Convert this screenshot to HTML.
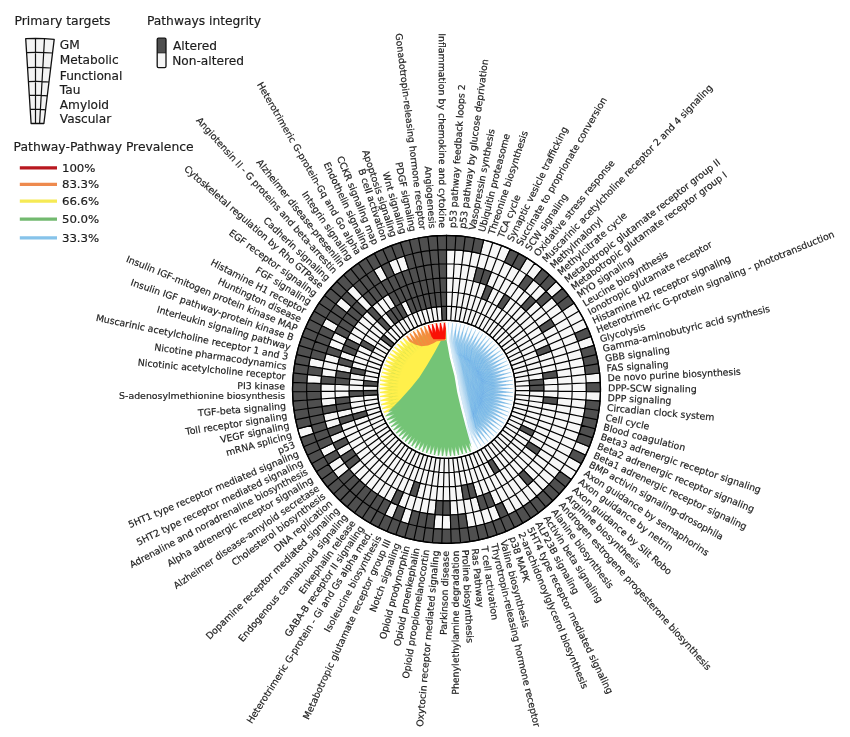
<!DOCTYPE html>
<html><head><meta charset="utf-8"><title>Pathway circos</title>
<style>
html,body{margin:0;padding:0;background:#fff;}
svg{display:block;filter:blur(0.45px);}
text{font-family:"DejaVu Sans","Liberation Sans",sans-serif;fill:#1c1c1c;stroke:#1c1c1c;stroke-width:0.18px;}
.lb{font-size:9.4px;}
.lg{font-size:12.3px;}
</style></head><body>
<svg width="850" height="737" viewBox="0 0 850 737">
<rect width="850" height="737" fill="#fff"/>

<defs><radialGradient id="gap" gradientUnits="userSpaceOnUse" cx="446.5" cy="389.4" r="68"><stop offset="0.80" stop-color="#fff" stop-opacity="0"/><stop offset="0.93" stop-color="#fff" stop-opacity="0.95"/><stop offset="1" stop-color="#fff" stop-opacity="1"/></radialGradient><clipPath id="disc"><circle cx="446.5" cy="389.4" r="67.0"/></clipPath></defs>
<g clip-path="url(#disc)">
<defs><radialGradient id="bl" gradientUnits="userSpaceOnUse" cx="497" cy="392" r="58" fx="500" fy="392"><stop offset="0" stop-color="#8fc3e7"/><stop offset="0.6" stop-color="#93c6e8"/><stop offset="1" stop-color="#9fcdeb"/></radialGradient><linearGradient id="blL" gradientUnits="userSpaceOnUse" x1="449.3" y1="340.3" x2="456.1" y2="338.7"><stop offset="0" stop-color="#fff" stop-opacity="0.6"/><stop offset="1" stop-color="#fff" stop-opacity="0"/></linearGradient></defs>
<path d="M448.02 322.42A67 67 0 0 1 474.82 450.12L475.6 452.5L472.4 441.1L468 424.9L463.7 408.6L459.9 392.3L457.2 376L452.5 357.7L449.3 340.3L448.2 323Z" fill="url(#bl)"/>
<path d="M473.43 450.75A67 67 0 1 1 445.92 322.4L446.6 340.3L449.8 357.7L454.5 376L457.2 392.3L461 408.6L465.3 424.9L469.7 441.1L472.9 452Z" fill="#74c476"/>
<path d="M385.01 416.01A67 67 0 0 1 445.92 322.4L446 340L441.1 340.3L434.6 352.3L427 365.3L419.4 377.3L410.7 388.1L399.9 400.1L389 410.9L385.8 416Z" fill="#fff04b"/>
<path d="M405.25 336.6A67 67 0 0 1 445.92 322.4L445 340.5L436.8 341.2L433.5 343.2L428 345.6L421.6 346.3L415 344.6L408.6 341Z" fill="#f58b3c"/>
<path d="M427.47 325.16A67 67 0 0 1 446.03 322.4L445.6 339.2L433.5 339.2L431.5 336.5Z" fill="#fa1005"/>
<path d="M452.06 329.66Q449.51 375.42 466.05 332.67M451.17 329.58Q450.69 376 476.73 337.57M451.54 329.61Q451.13 376.26 480.05 339.66M452.54 329.71Q451.52 376.46 482.32 341.27M452.21 329.67Q452.21 377.08 488.39 346.44M452.38 329.69Q452.51 377.37 490.71 348.83M452.41 329.69Q452.79 377.69 493.01 351.5M451.2 329.58Q452.94 378.07 495.5 354.78M452.35 329.69Q453.33 378.45 497.54 357.85M452.48 329.7Q453.9 379.55 502.16 366.99M451.37 329.6Q454.13 380.75 505.23 377.12M452.19 329.67Q454.36 381.64 506.3 384.5M451.79 329.63Q454.33 382.09 506.49 388.24M452.58 329.71Q453.38 385.98 497.75 420.59M452.54 329.7Q452.34 387.3 489.16 431.59M451.25 329.59Q451.83 387.63 486.16 434.42M452.48 329.7Q451.36 388.13 481 438.49M451.64 329.62Q450.83 388.4 477.43 440.82M452.17 329.67Q450.25 388.75 472.04 443.69M456.25 330.2Q450.94 375.88 473.72 335.93M456.44 330.23Q451.23 376.03 475.96 337.13M455.78 330.12Q451.48 376.21 478.7 338.77M455.46 330.07Q451.9 376.52 482.5 341.4M454.86 329.98Q452.21 376.82 485.69 343.97M456.37 330.22Q452.72 377.15 488.42 346.48M455.55 330.09Q452.87 377.39 490.54 348.65M455.5 330.08Q454.28 379.64 502.33 367.42M455.29 330.05Q454.42 380.1 503.7 371.27M455.7 330.11Q454.54 380.34 504.28 373.23M455.75 330.12Q454.65 380.77 505.16 376.8M455.83 330.13Q454.82 382.17 506.49 388.43M455.96 330.15Q454.79 383.1 506.11 396.19M454.89 329.99Q454.6 383.51 505.61 399.71M455.54 330.09Q454.48 384.36 503.95 406.69M455.39 330.06Q454.34 384.72 502.95 409.72M455.77 330.12Q454.23 385.13 501.62 413.11M456.07 330.17Q454.1 385.49 500.28 416.01M455.16 330.03Q453.21 386.71 493.74 426.39M455.1 330.02Q452.97 386.99 491.81 428.74M455.32 330.05Q452.4 387.61 486.81 433.84M456.2 330.19Q451.84 388.16 481.33 438.26M455.86 330.14Q451.31 388.47 477.26 440.92M455.16 330.03Q450.98 388.6 475.19 442.1M455.1 330.02Q450.46 388.85 470.88 444.22M458.85 330.68Q451.6 376.13 476.68 337.54M458.61 330.63Q452.57 376.82 484.96 343.34M458.96 330.71Q453.27 377.45 490.42 348.52M459.07 330.73Q453.63 377.86 493.36 351.93M458.4 330.59Q453.82 378.2 495.58 354.89M459.95 330.93Q454.66 379.38 501.03 364.37M459.62 330.85Q454.78 379.76 502.4 367.6M458.87 330.69Q454.94 380.48 504.43 373.76M458.51 330.61Q455 380.94 505.35 377.73M459.72 330.87Q455.21 381.3 505.83 380.44M459.61 330.85Q454.99 384.37 504.15 406.02M459.48 330.82Q454.82 384.85 502.83 410.06M459.93 330.92Q454.7 385.28 501.41 413.59M458.81 330.68Q454.35 385.7 499.64 417.26M459.68 330.86Q454.29 386.01 498.28 419.71M459.27 330.77Q453.96 386.45 495.9 423.46M459.69 330.87Q453.74 386.83 493.62 426.54M459.42 330.81Q452.81 387.77 486.15 434.43M458.84 330.68Q452.49 387.96 484.11 436.15M459.09 330.74Q452.14 388.26 480.91 438.55M458.48 330.61Q451.38 388.67 475.18 442.1M458.51 330.61Q450.84 388.94 470.62 444.34M462.77 331.65Q452.36 376.43 479.1 339.03M462.52 331.58Q452.75 376.71 482.55 341.44M462.27 331.51Q453.34 377.22 487.74 345.82M462.85 331.67Q453.77 377.61 490.76 348.89M462.09 331.46Q453.9 377.84 492.57 350.97M462.93 331.69Q454.34 378.31 495.42 354.67M463.25 331.79Q454.61 378.66 497.31 357.49M462.56 331.59Q454.73 378.99 499.06 360.46M463.08 331.74Q455.17 379.79 502.17 367.01M462.82 331.66Q455.3 380.24 503.55 370.82M462.64 331.61Q455.39 380.61 504.46 373.9M463.41 331.83Q455.71 382 506.36 385.32M462.71 331.63Q455.64 382.28 506.48 387.85M462.91 331.69Q454.92 385.66 500.29 415.98M463.21 331.77Q454.75 386.07 498.54 419.27M462.12 331.47Q454.29 386.55 495.84 423.55M461.99 331.44Q454.02 386.89 493.7 426.44M463.32 331.81Q453.92 387.24 491.54 429.04M463.2 331.77Q452.26 388.63 477.79 440.59M463.17 331.76Q451.4 389.07 470.68 444.31M465.98 332.65Q452.79 376.57 479.45 339.26M465.75 332.57Q453.42 377.05 484.9 343.3M466.05 332.67Q454.4 378.01 492.81 351.25M466.13 332.7Q454.64 378.31 494.74 353.72M467 333.01Q455.03 378.77 497.12 357.19M466.56 332.85Q455.44 379.58 500.91 364.11M466.23 332.74Q455.71 380.36 503.52 370.74M465.61 332.53Q455.86 381.21 505.41 377.99M466.16 332.71Q456.04 382.09 506.35 385.2M465.89 332.62Q456.02 382.42 506.48 387.98M465.83 332.6Q455.97 383.39 506.12 396.11M466.58 332.86Q455.93 384.23 504.97 402.86M465.81 332.59Q455.45 385.38 501.8 412.68M466.07 332.68Q455.29 385.81 500.17 416.23M465.97 332.65Q455.01 386.3 497.92 420.32M467.03 333.02Q454.93 386.67 496.22 422.99M466.78 332.93Q454.32 387.4 491.38 429.22M466.6 332.87Q453.67 388.02 486.16 434.43M466.62 332.88Q453.32 388.31 483.2 436.87M465.83 332.6Q452.99 388.45 481.24 438.32M469.19 333.86Q453.83 377.2 484.91 343.31M469.99 334.19Q454.34 377.62 488.38 346.43M470.24 334.29Q454.89 378.2 492.72 351.14M470.03 334.2Q455.11 378.5 494.74 353.72M470.19 334.27Q455.4 378.9 497.01 357.02M469.8 334.11Q455.62 379.32 499.2 360.72M469.42 333.95Q455.75 379.65 500.68 363.62M469.22 333.87Q455.92 380.07 502.24 367.21M469.74 334.08Q456.23 380.84 504.33 373.4M469.93 334.16Q456.35 381.28 505.19 376.95M470.35 334.34Q456.56 382.66 506.49 388.27M469.94 334.17Q456.41 384.01 505.61 399.67M470.06 334.22Q456.2 384.92 503.77 407.28M469.07 333.81Q455.81 385.61 501.49 413.4M470.01 334.2Q455.71 386.09 499.78 416.99M469.9 334.15Q455.26 386.83 496.07 423.2M470.27 334.31Q455.04 387.2 493.9 426.19M470.34 334.34Q454.84 387.47 492.13 428.36M470.01 334.2Q454.44 387.84 489.13 431.62M469.38 333.93Q453.42 388.61 481.32 438.27M470.01 334.2Q453.03 388.94 477.45 440.8M470.04 334.21Q452.73 389.12 474.84 442.28M469.49 333.98Q452.17 389.33 470.78 444.27M473.01 335.57Q454.29 377.41 484.9 343.3M472.75 335.45Q454.92 378.02 490.4 348.5M473.41 335.77Q455.28 378.38 492.76 351.19M472.66 335.4Q455.68 379 496.84 356.75M473.42 335.78Q456.06 379.53 499.24 360.8M472.53 335.34Q456.12 379.82 500.67 363.59M472.85 335.5Q456.79 381.89 505.86 380.68M473.11 335.62Q456.87 382.34 506.29 384.33M473.43 335.78Q456.93 382.76 506.48 387.7M473.08 335.61Q456.7 384.59 504.91 403.14M473.54 335.84Q456.16 386.25 499.93 416.7M473.41 335.77Q455.42 387.38 493.89 426.2M473.04 335.59Q455.12 387.67 491.78 428.77M473.05 335.59Q454.88 387.93 489.79 430.95M473.22 335.68Q454.53 388.3 486.67 433.97M473.44 335.79Q453.09 389.34 474.45 442.49M472.79 335.47Q452.69 389.46 471.76 443.83M476.29 337.32Q455.11 378 488.46 346.51M476.77 337.6Q455.44 378.32 490.73 348.86M476.76 337.59Q455.71 378.64 493.02 351.51M476.68 337.54Q456.67 380.17 501.03 364.38M476.61 337.5Q456.95 380.9 503.44 370.49M475.57 336.91Q456.93 381.17 504.31 373.34M475.74 337.01Q457.07 381.69 505.32 377.58M476.12 337.22Q457.24 382.62 506.34 385.08M476.18 337.26Q457.26 383.08 506.5 388.92M475.77 337.02Q457.2 383.52 506.4 392.81M476.05 337.18Q457.14 384.34 505.65 399.47M475.51 336.88Q456.9 385.1 504.14 406.08M476.18 337.25Q456.68 385.97 501.69 412.94M475.76 337.02Q456.43 386.38 499.99 416.58M475.55 336.9Q456.22 386.7 498.48 419.36M476.22 337.28Q456.08 387.11 496.61 422.41M476.16 337.24Q455.78 387.52 494.15 425.86M476.09 337.21Q455.2 388.17 489.37 431.38M476.91 337.68Q455 388.51 486.95 433.71M476.2 337.27Q454.59 388.74 484.25 436.04M475.69 336.98Q453.84 389.2 478.45 440.19M476.65 337.53Q453.11 389.73 471.4 443.99M479.01 338.97Q455.94 378.75 492.67 351.08M478.79 338.83Q456.7 379.89 499.21 360.73M478.7 338.77Q457.17 380.98 503.23 369.86M478.7 338.78Q457.3 381.39 504.3 373.3M480.02 339.64Q457.7 382.88 506.32 384.79M479.08 339.02Q457.51 384.58 505.63 399.59M479.07 339.01Q457.29 385.48 503.83 407.1M479.2 339.1Q457.2 385.81 502.94 409.76M479.69 339.42Q456.66 387.11 497.95 420.26M479.24 339.12Q455.6 388.38 489.57 431.18M479.03 338.99Q454.93 388.95 484.24 436.05M479.34 339.18Q453.49 389.9 471.88 443.77M482.31 341.26Q456.67 379.45 495.4 354.63M482 341.03Q457.1 380.18 499.34 360.97M482.89 341.69Q457.84 381.87 504.59 374.4M482.18 341.16Q457.82 382.11 505.18 376.88M482.97 341.75Q458 382.62 505.84 380.54M481.79 340.88Q457.93 383.5 506.5 388.73M481.75 340.84Q457.93 383.83 506.46 391.56M481.99 341.02Q457.75 385.32 504.75 403.77M482.44 341.36Q457.72 385.68 504.04 406.41M481.94 340.98Q456.98 387.2 498.43 419.46M482.79 341.62Q456.86 387.64 496.56 422.48M482.98 341.76Q456.62 388.03 494.36 425.59M482.31 341.26Q455.97 388.64 489.57 431.17M482.5 341.4Q453.81 390.19 471.43 443.97M485.65 343.93Q457.05 379.75 495.24 354.41M485.27 343.61Q457.46 380.43 499.03 360.41M485.03 343.4Q457.8 381.2 502.18 367.05M485.29 343.63Q458 381.69 503.57 370.89M485.41 343.73Q458.13 382.09 504.54 374.19M485.03 343.41Q458.2 382.56 505.48 378.4M485.13 343.49Q458.26 382.82 505.84 380.5M484.79 343.21Q458.28 383.39 506.38 385.55M485.12 343.48Q458.01 386.03 503.78 407.26M485.57 343.87Q457.61 387.2 499.99 416.58M485.78 344.04Q456.96 388.3 494.38 425.57M485.51 343.81Q456.64 388.63 491.96 428.56M485.4 343.72Q456.36 388.9 489.79 430.95M485.14 343.5Q455.64 389.51 484.01 436.23M484.71 343.14Q454.5 390.19 474.93 442.24M484.68 343.11Q454.13 390.37 471.88 443.77M487.53 345.62Q458.37 382.26 504.41 373.71M487.98 346.04Q458.54 382.79 505.34 377.65M488.37 346.42Q458.65 383.22 505.89 380.83M488.41 346.46Q458.71 383.76 506.36 385.34M487.63 345.72Q458.64 384.11 506.5 389M487.5 345.59Q458.61 384.48 506.43 392.2M487.54 345.63Q458.59 384.82 506.23 395.04M488.27 346.33Q458.61 385.43 505.67 399.36M487.56 345.65Q458.06 386.94 501.81 412.66M487.75 345.83Q457.9 387.37 500.26 416.05M487.45 345.55Q457.63 387.77 498.31 419.65M488.31 346.37Q457.49 388.26 496.27 422.91M487.39 345.49Q457.12 388.51 494.13 425.89M487.5 345.59Q455.5 390.07 480.52 438.82M488.34 346.4Q454.89 390.6 474.56 442.44M487.54 345.63Q454.5 390.66 472.08 443.67M490.7 348.83Q458.66 382.35 503.67 371.19M490.53 348.64Q458.91 383.46 505.86 380.64M490.72 348.85Q458.99 384.08 506.38 385.65M490.41 348.51Q458.97 384.35 506.49 388.24M490.86 349Q459.02 384.87 506.44 392.06M490.3 348.39Q458.85 385.69 505.65 399.45M490.91 349.06Q458.83 386.26 504.81 403.54M490.6 348.71Q458.39 387.41 501.45 413.49M490.26 348.35Q458.14 387.79 499.76 417.03M490.7 348.83Q457.78 388.54 496.32 422.84M490.96 349.11Q457.48 389.03 493.58 426.59M490.99 349.14Q457.01 389.58 489.62 431.12M490.88 349.03Q456.67 389.89 486.83 433.82M491.02 349.18Q456.25 390.27 483.22 436.85M490.39 348.49Q455.93 390.37 481.17 438.37M490.23 348.32Q455.42 390.66 477.12 441M490.2 348.29Q455.17 390.8 475.08 442.16M490.54 348.65Q454.72 391.08 470.98 444.18M492.68 351.1Q459.02 383.05 504.69 374.77M492.67 351.08Q459.1 383.38 505.32 377.55M492.97 351.44Q459.2 383.77 505.83 380.44M493.4 351.98Q459.3 384.29 506.28 384.24M493.44 352.02Q459.32 385.28 506.42 392.44M492.44 350.81Q459.1 386.02 505.58 399.85M492.59 350.98Q459.03 386.49 504.81 403.53M493.4 351.98Q458.89 387.39 502.83 410.07M492.5 350.87Q458.63 387.64 501.56 413.24M492.52 350.9Q458.26 388.38 498.45 419.41M492.76 351.19Q457.97 388.92 495.8 423.59M492.59 350.98Q457.68 389.25 493.6 426.57M492.76 351.19Q456.8 390.23 486.04 434.53M493.13 351.64Q456.6 390.48 484.05 436.2M492.75 351.18Q456.13 390.74 480.53 438.82M492.96 351.43Q455.07 391.39 471.44 443.97M495.47 354.73Q459.04 382.51 502 366.61M495.6 354.91Q459.53 384.34 506.01 381.76M494.92 353.96Q459.48 384.54 506.29 384.33M495.61 354.93Q459.59 385.14 506.49 388.33M494.67 353.62Q459.43 385.95 506.09 396.41M495.41 354.64Q459.16 387.63 503.08 409.37M495.09 354.2Q458.96 387.99 501.72 412.87M495.15 354.29Q458.55 388.83 498.26 419.74M495.01 354.09Q458.27 389.21 496.1 423.16M495.61 354.93Q456.91 390.87 484.11 436.15M495.15 354.28Q456.42 391.11 480.55 438.8M495.29 354.48Q456.15 391.33 478.12 440.39M495.13 354.25Q455.31 391.74 471.3 444.03M497.15 357.23Q459.64 384.14 505.36 377.78M497.13 357.21Q459.72 384.62 506.01 381.77M497.51 357.82Q459.82 385.48 506.49 388.29M496.94 356.91Q459.71 386.28 506.15 395.87M497.53 357.83Q459.63 387.29 504.86 403.35M497.02 357.03Q459.46 387.57 504 406.55M497.08 357.13Q459.32 388.03 502.76 410.26M496.95 356.92Q458.77 389.14 498.26 419.74M496.82 356.72Q458.27 389.84 494.24 425.75M496.77 356.65Q457.96 390.21 491.69 428.87M497.41 357.65Q457.37 390.99 486.19 434.4M497.36 357.57Q456.43 391.68 478.35 440.25M497.18 357.28Q455.49 392.13 470.75 444.28M498.81 360.01Q459.75 384.09 504.63 374.54M498.67 359.77Q459.89 384.83 505.9 380.94M499.33 360.95Q460.01 385.37 506.28 384.3M498.97 360.3Q460 385.8 506.49 388.5M499.16 360.65Q460.01 386.31 506.42 392.41M498.73 359.87Q459.92 386.72 506.07 396.59M499.01 360.38Q459.8 387.6 504.84 403.42M498.66 359.75Q459.52 388.31 502.86 409.99M499.38 361.04Q459.42 388.94 501.26 413.91M498.99 360.34Q459.2 389.21 499.86 416.84M498.97 360.3Q458.81 389.87 496.58 422.45M499.41 361.1Q458.27 390.74 491.71 428.85M498.84 360.07Q457.6 391.23 486.64 433.99M498.89 360.15Q456.83 391.85 480.21 439.04M498.82 360.03Q456.19 392.22 474.93 442.24M500.75 363.77Q460.07 384.93 505.36 377.78M500.92 364.13Q460.17 385.46 506.03 381.87M500.41 363.06Q460.16 386.55 506.44 392.03M500.51 363.26Q460.13 387.1 506.09 396.41M500.96 364.21Q460.12 387.67 505.53 400.14M501.02 364.35Q460.06 388.01 504.98 402.84M500.5 363.25Q459.91 388.23 504.22 405.8M500.64 363.55Q459.73 388.84 502.64 410.57M500.66 363.57Q459.42 389.56 500 416.56M500.55 363.34Q459.21 389.9 498.35 419.58M500.45 363.13Q458.71 390.59 494.34 425.61M500.77 363.82Q458.47 391.02 492.01 428.49M500.85 363.98Q457.82 391.72 486.47 434.15M500.91 364.1Q457.52 391.99 483.95 436.28M500.8 363.87Q457.12 392.25 480.7 438.7M500.4 363.05Q456.68 392.41 477.4 440.83M500.78 363.84Q456.04 392.87 471.7 443.85M502.39 367.57Q460.41 386.77 506.5 389.3M502.5 367.85Q460.41 387.14 506.44 392.12M502.33 367.41Q460.36 387.5 506.19 395.52M502.21 367.12Q460.06 388.85 503.83 407.11M502.22 367.14Q459.92 389.27 502.63 410.59M502.19 367.06Q459.77 389.62 501.43 413.54M501.93 366.44Q459.32 390.35 497.93 420.3M502.43 367.69Q458.87 391.25 493.66 426.49M502.49 367.84Q458.6 391.59 491.36 429.24M501.88 366.32Q457.93 392.01 486.38 434.23M502.18 367.04Q457.3 392.63 480.78 438.64M502.31 367.38Q456.94 392.91 477.72 440.64M501.95 366.47Q456.52 393.01 474.55 442.44M502.33 367.42Q456.24 393.29 471.85 443.78M503.29 370.03Q460.49 386.51 506.31 384.68M503.21 369.8Q460.5 387.37 506.44 392.11M503.45 370.52Q460.5 387.83 506.22 395.24M503.47 370.57Q460.42 388.43 505.54 400.12M503.39 370.35Q460.25 389.09 504.2 405.85M503.35 370.22Q460.05 389.66 502.59 410.71M503.68 371.23Q459.96 390.1 501.5 413.38M503.32 370.13Q459.69 390.45 499.56 417.41M503.49 370.62Q459.54 390.81 498.14 419.94M503.3 370.07Q459.22 391.2 495.74 423.69M503.56 370.84Q458.12 392.56 486.29 434.31M503.43 370.44Q457.73 392.82 483.18 436.88M503.59 370.93Q457.53 393.05 481.33 438.25M503.45 370.53Q456.73 393.48 474.82 442.3M504.57 374.32Q460.66 387.91 506.44 392.02M504.51 374.09Q460.56 388.78 505.63 399.56M504.3 373.29Q460.46 389.03 505.06 402.47M504.6 374.44Q460.23 390.08 502.84 410.02M504.29 373.28Q459.39 391.51 496.14 423.1M504.35 373.47Q458.5 392.61 488.68 432.07M504.6 374.4Q458 393.2 484.27 436.02M504.57 374.29Q457.58 393.5 480.73 438.68M504.34 373.43Q457.18 393.64 477.63 440.69M504.28 373.22Q456.49 393.98 471.98 443.72M505.31 377.51Q460.7 388.84 506.06 396.62M505.39 377.91Q460.6 389.56 505.12 402.19M505.39 377.91Q460.49 390.01 504.15 406.01M505.33 377.61Q460.33 390.43 502.95 409.75M505.42 378.08Q459.99 391.3 500 416.55M505.38 377.86Q459.55 392.02 496.36 422.78M505.31 377.5Q459.23 392.41 493.75 426.38M505.23 377.14Q458.99 392.65 491.83 428.71M505.26 377.28Q458.67 393.01 489.16 431.59M505.36 377.74Q458.41 393.33 486.86 433.79M505.16 376.81Q458.04 393.51 484.02 436.22M505.35 377.7Q457.73 393.87 481.19 438.35M505.92 381.07Q460.74 389.56 505.71 399.1M506 381.68Q460.65 390.11 504.94 403.01M506.03 381.9Q460.54 390.57 503.96 406.67M505.85 380.57Q460.18 391.31 501.14 414.18M505.9 380.97Q459.99 391.76 499.53 417.46M505.94 381.19Q459.83 392.07 498.17 419.9M506.03 381.9Q459.62 392.52 496.28 422.9M505.93 381.15Q459.4 392.72 494.56 425.32M505.98 381.48Q458.14 394.06 484.06 436.19M505.89 380.86Q457.78 394.25 481.14 438.39M505.96 381.4Q457.46 394.54 478.4 440.22M506.04 381.96Q456.68 395.03 471.82 443.8M506.36 385.24Q460.78 390.11 505.65 399.47M506.34 385.05Q460.6 390.85 504.19 405.87M506.38 385.6Q460.32 391.73 501.81 412.65M506.35 385.12Q460.05 392.24 499.59 417.35M506.35 385.18Q459.87 392.57 498.1 420.01M506.32 384.77Q459.63 392.9 496.1 423.16M506.3 384.5Q459.35 393.24 493.81 426.3M506.32 384.78Q459.14 393.54 492 428.51M506.34 385.08Q458.78 393.97 488.96 431.79M506.29 384.33Q458.18 394.41 484.02 436.22M506.29 384.39Q457.79 394.71 480.76 438.66M506.28 384.3Q457.12 395.11 475.23 442.08M506.33 384.83Q456.71 395.38 471.72 443.84M506.49 388.37Q460.49 391.66 503.11 409.29M506.5 388.86Q459.92 392.96 498.35 419.6M506.48 388.03Q459.7 393.22 496.48 422.6M506.5 388.93Q458.52 394.7 486.63 434.01M506.49 388.49Q458.19 394.92 483.9 436.32M506.49 388.31Q457.8 395.19 480.67 438.72M506.5 389.14Q456.63 395.95 470.89 444.22M506.41 392.61Q460.26 392.74 501.21 414.03M506.43 392.3Q460.06 393.11 499.57 417.39M506.41 392.74Q459.85 393.53 497.8 420.51M506.46 391.55Q459.69 393.64 496.46 422.62M506.45 391.84Q459.13 394.41 491.8 428.75M506.47 391.34Q458.44 395.05 486.04 434.53M506.45 391.95Q458.1 395.4 483.18 436.88M506.46 391.45Q457.76 395.59 480.34 438.95M506.46 391.68Q457.38 395.86 477.18 440.96M506.4 392.82Q457.09 396.15 474.88 442.26M506.46 391.67Q456.67 396.23 471.28 444.04M506.16 395.81Q460.27 393.01 501.62 413.1M506.2 395.38Q459.13 394.8 492.06 428.44M506.07 396.57Q458.72 395.37 488.77 431.98M506.17 395.67Q457.86 396 481.48 438.15M506.2 395.44Q456.96 396.53 473.97 442.74M506.08 396.5Q456.67 396.79 471.64 443.88M505.54 400.08Q460 393.94 500 416.57M505.61 399.67Q459.78 394.31 498.07 420.06M505.76 398.8Q459.57 394.57 496.13 423.12M505.55 400.03Q459.31 395.04 494.21 425.78M505.71 399.13Q459.08 395.24 492.16 428.33M505.65 399.49Q458.74 395.65 489.36 431.39M505.72 399.07Q458.42 395.91 486.62 434.01M505.58 399.86Q457.72 396.55 480.9 438.56M505.75 398.87Q457.31 396.71 477.31 440.88M505.69 399.22Q456.98 396.94 474.61 442.41M504.99 402.78Q459.94 394.26 500.02 416.52M504.92 403.08Q459.71 394.7 498.17 419.9M504.96 402.93Q459.48 395.05 496.22 422.98M504.75 403.79Q458.97 395.8 492.16 428.33M504.82 403.49Q458.35 396.41 486.9 433.76M504.92 403.07Q457.93 396.72 483.36 436.74M504.98 402.81Q456.57 397.53 471.95 443.74M503.88 406.93Q459.32 395.59 495.92 423.43M504.2 405.87Q458.18 396.78 486.11 434.46M504.19 405.88Q457.85 397.06 483.37 436.73M503.92 406.8Q457.59 397.34 481.52 438.12M503.89 406.89Q457.22 397.59 478.47 440.17M503.79 407.24Q456.8 397.87 475.05 442.17M503.02 409.53Q458.09 397.18 486.56 434.07M502.8 410.15Q457.44 397.75 481.38 438.22M502.83 410.05Q456.61 398.25 474.38 442.53M502.71 410.38Q456.17 398.5 470.89 444.22M501.66 413Q458.59 396.91 492.1 428.39M501.56 413.24Q457.92 397.62 486.58 434.05M501.59 413.16Q457.19 398.18 480.51 438.83M501.77 412.76Q456.43 398.6 474 442.73M499.56 417.4Q458.01 397.8 489.33 431.42M500.22 416.12Q457.78 397.94 486.79 433.86M499.57 417.39Q456.97 398.68 480.67 438.72M499.8 416.96Q456.64 398.86 477.67 440.67M499.9 416.76Q455.89 399.24 471.36 444.01M497.91 420.34Q457.51 398.44 486.85 433.8M498.17 419.91Q456.83 398.96 480.95 438.52M498.36 419.58Q456.16 399.35 475.17 442.1M496.5 422.57Q457.02 398.98 484.2 436.08M496.14 423.11Q456.25 399.56 478.11 440.4M494.12 425.91Q456.34 399.68 480.89 438.57M493.76 426.37Q455.96 399.96 478.07 440.42M493.93 426.15Q455.55 400.18 474.51 442.46M493.69 426.46Q455.14 400.4 471.32 444.03M492.21 428.26Q456.1 399.97 480.8 438.63M491.7 428.86Q455.71 400.26 478.03 440.45M492.24 428.23Q455.43 400.39 475.14 442.12M491.35 429.26Q454.85 400.74 471.23 444.07M489 431.75Q455.33 400.64 477.62 440.7M488.95 431.8Q455.02 400.82 475.03 442.18M486.87 433.79Q454.76 401.06 475 442.2" fill="none" stroke="#5aa8dc" stroke-opacity="0.022" stroke-width="0.6"/>
<defs><radialGradient id="gap2" gradientUnits="userSpaceOnUse" cx="446.5" cy="389.4" r="68"><stop offset="0.66" stop-color="#fff" stop-opacity="0"/><stop offset="0.84" stop-color="#fff" stop-opacity="0.95"/><stop offset="1" stop-color="#fff" stop-opacity="1"/></radialGradient></defs>
<path d="M444.75 320.42L448.25 320.42L446.5 331.9ZM474.75 452.35L471.53 453.7L468.71 442.44ZM470.86 453.96L467.56 455.11L465.43 443.69ZM466.88 455.32L463.52 456.27L462.09 444.75ZM462.82 456.44L459.41 457.18L458.68 445.59ZM458.7 457.31L455.25 457.84L455.24 446.23ZM454.54 457.93L451.06 458.25L451.75 446.66ZM450.35 458.29L446.86 458.4L448.25 446.87ZM446.14 458.4L442.65 458.29L444.75 446.87ZM441.94 458.25L438.46 457.93L441.25 446.66ZM437.75 457.84L434.3 457.31L437.76 446.23ZM433.59 457.18L430.18 456.44L434.32 445.59ZM429.48 456.27L426.12 455.32L430.91 444.75ZM425.44 455.11L422.14 453.96L427.57 443.69ZM421.47 453.7L418.25 452.35L424.29 442.44ZM417.6 452.06L414.46 450.51L421.1 440.99ZM413.83 450.18L410.8 448.45L418 439.34ZM410.19 448.07L407.27 446.16L415.01 437.51ZM406.68 445.75L403.88 443.66L412.14 435.5ZM403.32 443.22L400.65 440.96L409.39 433.32ZM400.12 440.48L397.59 438.07L406.78 430.98ZM397.09 437.56L394.71 435L404.32 428.48ZM394.24 434.46L392.03 431.76L402.02 425.84ZM391.59 431.19L389.55 428.36L399.88 423.06ZM389.15 427.76L387.28 424.81L397.91 420.15ZM386.92 424.2L385.23 421.14L396.13 417.13ZM384.91 420.5L383.41 417.34L394.53 414.01ZM383.12 416.69L381.83 413.45L393.13 410.8ZM381.58 412.77L380.48 409.46L391.92 407.5ZM380.27 408.77L379.38 405.4L390.92 404.14ZM379.22 404.7L378.53 401.27L390.13 400.73ZM378.41 400.57L377.93 397.11L389.54 397.27ZM377.86 396.4L377.59 392.91L389.17 393.78ZM377.56 392.2L377.5 388.71L389.01 390.28ZM377.51 387.99L377.67 384.5L389.06 386.77ZM377.73 383.79L378.1 380.31L389.33 383.27ZM378.2 379.6L378.78 376.16L389.81 379.8ZM378.92 375.46L379.71 372.06L390.5 376.36ZM379.9 371.36L380.9 368.02L391.4 372.97ZM381.12 367.34L382.32 364.06L392.5 369.64ZM382.59 363.39L383.99 360.19L393.81 366.39ZM384.29 359.55L385.88 356.44L395.31 363.22ZM386.23 355.81L388.01 352.8L397 360.15ZM388.39 352.2L390.35 349.3L398.87 357.18ZM390.76 348.72L392.89 345.96L400.93 354.34ZM393.35 345.4L395.64 342.77L403.15 351.63ZM396.13 342.24L398.58 339.75L405.53 349.05ZM399.1 339.26L401.7 336.93L408.07 346.63ZM402.24 336.46L404.98 334.29L410.75 344.37ZM405.55 333.86L408.41 331.86L413.56 342.27ZM409.01 331.47L411.99 329.65L416.49 340.35ZM412.62 329.29L415.7 327.66L419.54 338.61ZM416.34 327.34L419.52 325.89L422.69 337.06ZM420.18 325.62L423.44 324.37L425.92 335.71ZM424.12 324.13L427.45 323.08L429.23 334.55ZM428.14 322.89L431.53 322.04L432.61 333.6ZM432.23 321.89L435.66 321.26L436.04 332.86ZM436.37 321.15L439.84 320.72L439.5 332.33ZM440.55 320.66L444.04 320.44L442.99 332.01Z" fill="url(#gap)"/>
<path d="M448.76 320.44L452.65 320.67L449.3 343.49ZM452.96 320.7L456.83 321.18L452.1 343.74ZM457.13 321.22L460.97 321.93L454.87 344.17ZM461.27 322L465.06 322.94L457.61 344.76ZM465.35 323.03L469.07 324.2L460.31 345.52ZM469.36 324.3L473.01 325.69L462.96 346.45ZM473.29 325.81L476.84 327.43L465.55 347.53ZM477.12 327.56L480.56 329.39L468.07 348.77ZM480.83 329.55L484.16 331.58L470.51 350.16ZM484.41 331.75L487.61 333.99L472.85 351.7ZM487.86 334.17L490.91 336.59L475.1 353.37ZM491.15 336.79L494.05 339.4L477.25 355.18ZM494.27 339.61L497.01 342.39L479.27 357.12ZM497.22 342.62L499.78 345.56L481.18 359.18ZM499.98 345.8L502.36 348.89L482.96 361.35ZM502.54 349.14L504.72 352.37L484.6 363.63ZM504.89 352.63L506.87 355.99L486.1 366ZM507.02 356.26L508.8 359.73L487.45 368.45ZM508.93 360.01L510.49 363.58L488.66 370.99ZM510.6 363.87L511.94 367.53L489.7 373.59ZM512.04 367.82L513.15 371.56L490.58 376.26ZM513.23 371.86L514.12 375.66L491.3 378.97ZM514.18 375.96L514.83 379.81L491.85 381.72ZM514.87 380.11L515.29 383.99L492.24 384.5ZM515.31 384.3L515.49 388.19L492.45 387.3ZM515.49 388.5L515.43 392.4L492.49 390.1ZM515.42 392.71L515.12 396.6L492.37 392.9ZM515.09 396.9L514.56 400.77L492.07 395.69ZM514.51 401.07L513.74 404.9L491.6 398.46ZM513.67 405.2L512.67 408.97L490.96 401.19ZM512.58 409.26L511.35 412.96L490.16 403.88ZM511.25 413.25L509.79 416.87L489.2 406.52ZM509.67 417.16L508 420.68L488.07 409.09ZM507.86 420.96L505.98 424.37L486.8 411.59ZM505.82 424.64L503.74 427.93L485.37 414ZM503.57 428.19L501.28 431.35L483.8 416.32ZM501.09 431.6L498.62 434.61L482.09 418.55ZM498.42 434.85L495.77 437.71L480.24 420.66ZM495.55 437.93L492.73 440.62L478.27 422.66ZM492.5 440.83L489.52 443.34L476.19 424.54ZM489.28 443.54L486.15 445.87L473.99 426.28ZM485.9 446.04L482.64 448.18L471.69 427.89ZM482.38 448.34L478.99 450.27L469.3 429.35ZM478.72 450.42L475.22 452.14L466.82 430.67Z" fill="url(#gap2)"/>
<path d="M475.6 452.5L472.4 441.1L468 424.9L463.7 408.6L459.9 392.3L457.2 376L452.5 357.7L449.3 340.3L448.2 323L455.2 323L456.3 340.3L459.5 357.7L464.2 376L466.9 392.3L470.7 408.6L475 424.9L479.4 441.1L482.6 452.5Z" fill="url(#blL)"/>
<defs><radialGradient id="ys" gradientUnits="userSpaceOnUse" cx="446.5" cy="389.4" r="68"><stop offset="0.70" stop-color="#a8cf4a" stop-opacity="0"/><stop offset="0.84" stop-color="#a8cf4a" stop-opacity="0.55"/><stop offset="0.93" stop-color="#c8e07a" stop-opacity="0"/></radialGradient></defs>
<path d="M384.52 412.08L402.25 408L401.99 407.38ZM384.52 412.08L400.7 403.75L400.5 403.11ZM383.25 408.26L401.2 405.27L400.98 404.63ZM383.25 408.26L399.91 400.93L399.75 400.28ZM382.22 404.37L400.32 402.47L400.14 401.83ZM382.22 404.37L399.29 398.07L399.17 397.41ZM381.43 400.42L399.6 399.63L399.47 398.98ZM381.43 400.42L398.85 395.18L398.77 394.51ZM380.88 396.43L399.07 396.76L398.97 396.09ZM380.88 396.43L398.59 392.26L398.55 391.59ZM380.57 392.42L398.71 393.85L398.65 393.18ZM380.57 392.42L398.5 389.33L398.51 388.66ZM380.51 388.39L398.52 390.93L398.51 390.26ZM380.51 388.39L398.59 386.41L398.64 385.74ZM380.69 384.37L398.52 388L398.54 387.33ZM380.69 384.37L398.86 383.49L398.95 382.83ZM381.12 380.37L398.69 385.08L398.76 384.41ZM381.12 380.37L399.31 380.6L399.44 379.94ZM381.79 376.4L399.05 382.17L399.15 381.51ZM381.79 376.4L399.94 377.74L400.11 377.09ZM382.71 372.48L399.58 379.29L399.72 378.64ZM382.71 372.48L400.74 374.92L400.94 374.29ZM383.86 368.62L400.28 376.45L400.46 375.81ZM383.86 368.62L401.7 372.16L401.95 371.54ZM385.24 364.84L401.15 373.66L401.38 373.03ZM385.24 364.84L402.84 369.46L403.12 368.85ZM386.85 361.15L402.2 370.92L402.46 370.31ZM386.85 361.15L404.13 366.84L404.45 366.25ZM388.68 357.57L403.41 368.26L403.71 367.66ZM388.68 357.57L405.59 364.3L405.94 363.73ZM390.73 354.1L404.78 365.67L405.11 365.09ZM390.73 354.1L407.2 361.85L407.58 361.3ZM392.99 350.77L406.3 363.17L406.67 362.61ZM392.99 350.77L408.95 359.5L409.37 358.98ZM395.44 347.58L407.97 360.77L408.38 360.23ZM395.44 347.58L410.84 357.27L411.29 356.77ZM398.09 344.54L409.79 358.47L410.23 357.96ZM398.09 344.54L412.87 355.15L413.35 354.69ZM400.91 341.68L411.75 356.29L412.21 355.81ZM400.91 341.68L415.02 353.17L415.52 352.73ZM403.9 338.99L413.83 354.23L414.32 353.78ZM403.9 338.99L417.28 351.32L417.82 350.91ZM407.06 336.48L416.03 352.31L416.55 351.89ZM407.06 336.48L419.66 349.61L420.22 349.23ZM410.36 334.18L418.35 350.52L418.9 350.13ZM410.36 334.18L422.14 348.04L422.72 347.71ZM413.79 332.08L420.77 348.88L421.34 348.52ZM413.79 332.08L424.7 346.64L425.3 346.33ZM417.35 330.19L423.29 347.38L423.88 347.06ZM417.35 330.19L427.35 345.39L427.97 345.12ZM421.01 328.52L425.9 346.05L426.5 345.76ZM421.01 328.52L430.07 344.3L430.7 344.08Z" fill="url(#ys)"/>
</g>
<path d="M446.5 249.57A139.83 139.83 0 0 1 455.02 249.83L454.16 263.97A125.67 125.67 0 0 0 446.5 263.73ZM446.5 263.73A125.67 125.67 0 0 1 454.16 263.97L453.3 278.11A111.5 111.5 0 0 0 446.5 277.9ZM446.5 277.9A111.5 111.5 0 0 1 453.3 278.11L452.43 292.25A97.33 97.33 0 0 0 446.5 292.07ZM446.5 292.07A97.33 97.33 0 0 1 452.43 292.25L451.57 306.39A83.17 83.17 0 0 0 446.5 306.23ZM446.5 306.23A83.17 83.17 0 0 1 451.57 306.39L450.71 320.53A69 69 0 0 0 446.5 320.4ZM455.02 249.83A139.83 139.83 0 0 1 463.52 250.61L461.79 264.67A125.67 125.67 0 0 0 454.16 263.97ZM454.16 263.97A125.67 125.67 0 0 1 461.79 264.67L460.07 278.73A111.5 111.5 0 0 0 453.3 278.11ZM453.3 278.11A111.5 111.5 0 0 1 460.07 278.73L458.35 292.79A97.33 97.33 0 0 0 452.43 292.25ZM452.43 292.25A97.33 97.33 0 0 1 458.35 292.79L456.62 306.85A83.17 83.17 0 0 0 451.57 306.39ZM451.57 306.39A83.17 83.17 0 0 1 456.62 306.85L454.9 320.91A69 69 0 0 0 450.71 320.53ZM463.52 250.61A139.83 139.83 0 0 1 471.95 251.9L469.37 265.83A125.67 125.67 0 0 0 461.79 264.67ZM461.79 264.67A125.67 125.67 0 0 1 469.37 265.83L466.79 279.76A111.5 111.5 0 0 0 460.07 278.73ZM460.07 278.73A111.5 111.5 0 0 1 466.79 279.76L464.21 293.69A97.33 97.33 0 0 0 458.35 292.79ZM458.35 292.79A97.33 97.33 0 0 1 464.21 293.69L461.64 307.62A83.17 83.17 0 0 0 456.62 306.85ZM456.62 306.85A83.17 83.17 0 0 1 461.64 307.62L459.06 321.55A69 69 0 0 0 454.9 320.91ZM471.95 251.9A139.83 139.83 0 0 1 480.28 253.71L476.86 267.46A125.67 125.67 0 0 0 469.37 265.83ZM469.37 265.83A125.67 125.67 0 0 1 476.86 267.46L473.44 281.2A111.5 111.5 0 0 0 466.79 279.76ZM466.79 279.76A111.5 111.5 0 0 1 473.44 281.2L470.02 294.95A97.33 97.33 0 0 0 464.21 293.69ZM464.21 293.69A97.33 97.33 0 0 1 470.02 294.95L466.59 308.7A83.17 83.17 0 0 0 461.64 307.62ZM461.64 307.62A83.17 83.17 0 0 1 466.59 308.7L463.17 322.44A69 69 0 0 0 459.06 321.55ZM483.71 239.96A154 154 0 0 1 492.75 242.51L488.49 256.02A139.83 139.83 0 0 0 480.28 253.71ZM480.28 253.71A139.83 139.83 0 0 1 488.49 256.02L484.24 269.53A125.67 125.67 0 0 0 476.86 267.46ZM473.44 281.2A111.5 111.5 0 0 1 479.98 283.05L475.73 296.56A97.33 97.33 0 0 0 470.02 294.95ZM470.02 294.95A97.33 97.33 0 0 1 475.73 296.56L471.48 310.07A83.17 83.17 0 0 0 466.59 308.7ZM466.59 308.7A83.17 83.17 0 0 1 471.48 310.07L467.22 323.58A69 69 0 0 0 463.17 322.44ZM492.75 242.51A154 154 0 0 1 501.62 245.6L496.55 258.83A139.83 139.83 0 0 0 488.49 256.02ZM488.49 256.02A139.83 139.83 0 0 1 496.55 258.83L491.48 272.06A125.67 125.67 0 0 0 484.24 269.53ZM479.98 283.05A111.5 111.5 0 0 1 486.41 285.29L481.33 298.51A97.33 97.33 0 0 0 475.73 296.56ZM475.73 296.56A97.33 97.33 0 0 1 481.33 298.51L476.26 311.74A83.17 83.17 0 0 0 471.48 310.07ZM471.48 310.07A83.17 83.17 0 0 1 476.26 311.74L471.19 324.97A69 69 0 0 0 467.22 323.58ZM501.62 245.6A154 154 0 0 1 510.28 249.23L504.41 262.12A139.83 139.83 0 0 0 496.55 258.83ZM496.55 258.83A139.83 139.83 0 0 1 504.41 262.12L498.55 275.02A125.67 125.67 0 0 0 491.48 272.06ZM491.48 272.06A125.67 125.67 0 0 1 498.55 275.02L492.68 287.91A111.5 111.5 0 0 0 486.41 285.29ZM481.33 298.51A97.33 97.33 0 0 1 486.81 300.81L480.94 313.7A83.17 83.17 0 0 0 476.26 311.74ZM476.26 311.74A83.17 83.17 0 0 1 480.94 313.7L475.08 326.6A69 69 0 0 0 471.19 324.97ZM504.41 262.12A139.83 139.83 0 0 1 512.06 265.89L505.42 278.4A125.67 125.67 0 0 0 498.55 275.02ZM498.55 275.02A125.67 125.67 0 0 1 505.42 278.4L498.78 290.92A111.5 111.5 0 0 0 492.68 287.91ZM492.68 287.91A111.5 111.5 0 0 1 498.78 290.92L492.14 303.43A97.33 97.33 0 0 0 486.81 300.81ZM486.81 300.81A97.33 97.33 0 0 1 492.14 303.43L485.49 315.94A83.17 83.17 0 0 0 480.94 313.7ZM480.94 313.7A83.17 83.17 0 0 1 485.49 315.94L478.85 328.45A69 69 0 0 0 475.08 326.6ZM512.06 265.89A139.83 139.83 0 0 1 519.47 270.12L512.08 282.2A125.67 125.67 0 0 0 505.42 278.4ZM505.42 278.4A125.67 125.67 0 0 1 512.08 282.2L504.69 294.29A111.5 111.5 0 0 0 498.78 290.92ZM498.78 290.92A111.5 111.5 0 0 1 504.69 294.29L497.29 306.37A97.33 97.33 0 0 0 492.14 303.43ZM492.14 303.43A97.33 97.33 0 0 1 497.29 306.37L489.9 318.46A83.17 83.17 0 0 0 485.49 315.94ZM485.49 315.94A83.17 83.17 0 0 1 489.9 318.46L482.51 330.54A69 69 0 0 0 478.85 328.45ZM526.86 258.03A154 154 0 0 1 534.72 263.18L526.61 274.79A139.83 139.83 0 0 0 519.47 270.12ZM519.47 270.12A139.83 139.83 0 0 1 526.61 274.79L518.49 286.4A125.67 125.67 0 0 0 512.08 282.2ZM512.08 282.2A125.67 125.67 0 0 1 518.49 286.4L510.38 298.01A111.5 111.5 0 0 0 504.69 294.29ZM497.29 306.37A97.33 97.33 0 0 1 502.26 309.62L494.14 321.23A83.17 83.17 0 0 0 489.9 318.46ZM489.9 318.46A83.17 83.17 0 0 1 494.14 321.23L486.03 332.84A69 69 0 0 0 482.51 330.54ZM534.72 263.18A154 154 0 0 1 542.25 268.79L533.45 279.88A139.83 139.83 0 0 0 526.61 274.79ZM518.49 286.4A125.67 125.67 0 0 1 524.64 290.98L515.83 302.07A111.5 111.5 0 0 0 510.38 298.01ZM510.38 298.01A111.5 111.5 0 0 1 515.83 302.07L507.02 313.17A97.33 97.33 0 0 0 502.26 309.62ZM502.26 309.62A97.33 97.33 0 0 1 507.02 313.17L498.21 324.26A83.17 83.17 0 0 0 494.14 321.23ZM494.14 321.23A83.17 83.17 0 0 1 498.21 324.26L489.4 335.36A69 69 0 0 0 486.03 332.84ZM533.45 279.88A139.83 139.83 0 0 1 539.96 285.39L530.49 295.93A125.67 125.67 0 0 0 524.64 290.98ZM524.64 290.98A125.67 125.67 0 0 1 530.49 295.93L521.02 306.46A111.5 111.5 0 0 0 515.83 302.07ZM515.83 302.07A111.5 111.5 0 0 1 521.02 306.46L511.56 317A97.33 97.33 0 0 0 507.02 313.17ZM507.02 313.17A97.33 97.33 0 0 1 511.56 317L502.09 327.54A83.17 83.17 0 0 0 498.21 324.26ZM498.21 324.26A83.17 83.17 0 0 1 502.09 327.54L492.62 338.08A69 69 0 0 0 489.4 335.36ZM539.96 285.39A139.83 139.83 0 0 1 546.13 291.28L536.03 301.22A125.67 125.67 0 0 0 530.49 295.93ZM521.02 306.46A111.5 111.5 0 0 1 525.94 311.16L515.85 321.1A97.33 97.33 0 0 0 511.56 317ZM511.56 317A97.33 97.33 0 0 1 515.85 321.1L505.75 331.04A83.17 83.17 0 0 0 502.09 327.54ZM502.09 327.54A83.17 83.17 0 0 1 505.75 331.04L495.66 340.98A69 69 0 0 0 492.62 338.08ZM556.22 281.34A154 154 0 0 1 562.61 288.23L551.92 297.54A139.83 139.83 0 0 0 546.13 291.28ZM536.03 301.22A125.67 125.67 0 0 1 541.24 306.84L530.56 316.15A111.5 111.5 0 0 0 525.94 311.16ZM525.94 311.16A111.5 111.5 0 0 1 530.56 316.15L519.88 325.46A97.33 97.33 0 0 0 515.85 321.1ZM515.85 321.1A97.33 97.33 0 0 1 519.88 325.46L509.2 334.76A83.17 83.17 0 0 0 505.75 331.04ZM505.75 331.04A83.17 83.17 0 0 1 509.2 334.76L498.52 344.07A69 69 0 0 0 495.66 340.98ZM551.92 297.54A139.83 139.83 0 0 1 557.33 304.13L546.1 312.77A125.67 125.67 0 0 0 541.24 306.84ZM541.24 306.84A125.67 125.67 0 0 1 546.1 312.77L534.87 321.41A111.5 111.5 0 0 0 530.56 316.15ZM530.56 316.15A111.5 111.5 0 0 1 534.87 321.41L523.64 330.05A97.33 97.33 0 0 0 519.88 325.46ZM519.88 325.46A97.33 97.33 0 0 1 523.64 330.05L512.42 338.69A83.17 83.17 0 0 0 509.2 334.76ZM509.2 334.76A83.17 83.17 0 0 1 512.42 338.69L501.19 347.33A69 69 0 0 0 498.52 344.07ZM557.33 304.13A139.83 139.83 0 0 1 562.32 311.05L550.59 318.99A125.67 125.67 0 0 0 546.1 312.77ZM546.1 312.77A125.67 125.67 0 0 1 550.59 318.99L538.85 326.92A111.5 111.5 0 0 0 534.87 321.41ZM534.87 321.41A111.5 111.5 0 0 1 538.85 326.92L527.12 334.86A97.33 97.33 0 0 0 523.64 330.05ZM523.64 330.05A97.33 97.33 0 0 1 527.12 334.86L515.39 342.8A83.17 83.17 0 0 0 512.42 338.69ZM512.42 338.69A83.17 83.17 0 0 1 515.39 342.8L503.65 350.74A69 69 0 0 0 501.19 347.33ZM574.05 303.11A154 154 0 0 1 579.08 311.05L566.88 318.26A139.83 139.83 0 0 0 562.32 311.05ZM562.32 311.05A139.83 139.83 0 0 1 566.88 318.26L554.69 325.46A125.67 125.67 0 0 0 550.59 318.99ZM538.85 326.92A111.5 111.5 0 0 1 542.49 332.67L530.29 339.88A97.33 97.33 0 0 0 527.12 334.86ZM527.12 334.86A97.33 97.33 0 0 1 530.29 339.88L518.1 347.09A83.17 83.17 0 0 0 515.39 342.8ZM515.39 342.8A83.17 83.17 0 0 1 518.1 347.09L505.9 354.29A69 69 0 0 0 503.65 350.74ZM579.08 311.05A154 154 0 0 1 583.61 319.28L571 325.73A139.83 139.83 0 0 0 566.88 318.26ZM566.88 318.26A139.83 139.83 0 0 1 571 325.73L558.38 332.18A125.67 125.67 0 0 0 554.69 325.46ZM554.69 325.46A125.67 125.67 0 0 1 558.38 332.18L545.77 338.63A111.5 111.5 0 0 0 542.49 332.67ZM542.49 332.67A111.5 111.5 0 0 1 545.77 338.63L533.16 345.08A97.33 97.33 0 0 0 530.29 339.88ZM530.29 339.88A97.33 97.33 0 0 1 533.16 345.08L520.54 351.53A83.17 83.17 0 0 0 518.1 347.09ZM518.1 347.09A83.17 83.17 0 0 1 520.54 351.53L507.93 357.98A69 69 0 0 0 505.9 354.29ZM583.61 319.28A154 154 0 0 1 587.63 327.77L574.65 333.44A139.83 139.83 0 0 0 571 325.73ZM571 325.73A139.83 139.83 0 0 1 574.65 333.44L561.66 339.11A125.67 125.67 0 0 0 558.38 332.18ZM558.38 332.18A125.67 125.67 0 0 1 561.66 339.11L548.68 344.77A111.5 111.5 0 0 0 545.77 338.63ZM545.77 338.63A111.5 111.5 0 0 1 548.68 344.77L535.7 350.44A97.33 97.33 0 0 0 533.16 345.08ZM533.16 345.08A97.33 97.33 0 0 1 535.7 350.44L522.72 356.11A83.17 83.17 0 0 0 520.54 351.53ZM520.54 351.53A83.17 83.17 0 0 1 522.72 356.11L509.73 361.78A69 69 0 0 0 507.93 357.98ZM574.65 333.44A139.83 139.83 0 0 1 577.82 341.35L564.52 346.22A125.67 125.67 0 0 0 561.66 339.11ZM561.66 339.11A125.67 125.67 0 0 1 564.52 346.22L551.21 351.09A111.5 111.5 0 0 0 548.68 344.77ZM535.7 350.44A97.33 97.33 0 0 1 537.91 355.96L524.6 360.82A83.17 83.17 0 0 0 522.72 356.11ZM522.72 356.11A83.17 83.17 0 0 1 524.6 360.82L511.3 365.69A69 69 0 0 0 509.73 361.78ZM591.12 336.48A154 154 0 0 1 594.08 345.4L580.5 349.45A139.83 139.83 0 0 0 577.82 341.35ZM577.82 341.35A139.83 139.83 0 0 1 580.5 349.45L566.93 353.49A125.67 125.67 0 0 0 564.52 346.22ZM564.52 346.22A125.67 125.67 0 0 1 566.93 353.49L553.35 357.54A111.5 111.5 0 0 0 551.21 351.09ZM551.21 351.09A111.5 111.5 0 0 1 553.35 357.54L539.78 361.59A97.33 97.33 0 0 0 537.91 355.96ZM537.91 355.96A97.33 97.33 0 0 1 539.78 361.59L526.2 365.64A83.17 83.17 0 0 0 524.6 360.82ZM524.6 360.82A83.17 83.17 0 0 1 526.2 365.64L512.62 369.69A69 69 0 0 0 511.3 365.69ZM580.5 349.45A139.83 139.83 0 0 1 582.69 357.69L568.89 360.9A125.67 125.67 0 0 0 566.93 353.49ZM566.93 353.49A125.67 125.67 0 0 1 568.89 360.9L555.1 364.12A111.5 111.5 0 0 0 553.35 357.54ZM553.35 357.54A111.5 111.5 0 0 1 555.1 364.12L541.3 367.33A97.33 97.33 0 0 0 539.78 361.59ZM539.78 361.59A97.33 97.33 0 0 1 541.3 367.33L527.5 370.54A83.17 83.17 0 0 0 526.2 365.64ZM526.2 365.64A83.17 83.17 0 0 1 527.5 370.54L513.7 373.75A69 69 0 0 0 512.62 369.69ZM582.69 357.69A139.83 139.83 0 0 1 584.37 366.05L570.4 368.42A125.67 125.67 0 0 0 568.89 360.9ZM568.89 360.9A125.67 125.67 0 0 1 570.4 368.42L556.43 370.78A111.5 111.5 0 0 0 555.1 364.12ZM555.1 364.12A111.5 111.5 0 0 1 556.43 370.78L542.47 373.15A97.33 97.33 0 0 0 541.3 367.33ZM541.3 367.33A97.33 97.33 0 0 1 542.47 373.15L528.5 375.51A83.17 83.17 0 0 0 527.5 370.54ZM527.5 370.54A83.17 83.17 0 0 1 528.5 375.51L514.53 377.88A69 69 0 0 0 513.7 373.75ZM584.37 366.05A139.83 139.83 0 0 1 585.54 374.5L571.45 376.01A125.67 125.67 0 0 0 570.4 368.42ZM570.4 368.42A125.67 125.67 0 0 1 571.45 376.01L557.37 377.52A111.5 111.5 0 0 0 556.43 370.78ZM542.47 373.15A97.33 97.33 0 0 1 543.28 379.03L529.19 380.54A83.17 83.17 0 0 0 528.5 375.51ZM528.5 375.51A83.17 83.17 0 0 1 529.19 380.54L515.11 382.05A69 69 0 0 0 514.53 377.88ZM599.62 372.99A154 154 0 0 1 600.34 382.36L586.19 383A139.83 139.83 0 0 0 585.54 374.5ZM585.54 374.5A139.83 139.83 0 0 1 586.19 383L572.04 383.65A125.67 125.67 0 0 0 571.45 376.01ZM571.45 376.01A125.67 125.67 0 0 1 572.04 383.65L557.88 384.3A111.5 111.5 0 0 0 557.37 377.52ZM557.37 377.52A111.5 111.5 0 0 1 557.88 384.3L543.73 384.95A97.33 97.33 0 0 0 543.28 379.03ZM529.19 380.54A83.17 83.17 0 0 1 529.58 385.6L515.43 386.24A69 69 0 0 0 515.11 382.05ZM586.19 383A139.83 139.83 0 0 1 586.32 391.53L572.15 391.32A125.67 125.67 0 0 0 572.04 383.65ZM572.04 383.65A125.67 125.67 0 0 1 572.15 391.32L557.99 391.1A111.5 111.5 0 0 0 557.88 384.3ZM557.88 384.3A111.5 111.5 0 0 1 557.99 391.1L543.82 390.88A97.33 97.33 0 0 0 543.73 384.95ZM529.58 385.6A83.17 83.17 0 0 1 529.66 390.67L515.49 390.45A69 69 0 0 0 515.43 386.24ZM600.48 391.75A154 154 0 0 1 600.05 401.13L585.93 400.05A139.83 139.83 0 0 0 586.32 391.53ZM586.32 391.53A139.83 139.83 0 0 1 585.93 400.05L571.8 398.97A125.67 125.67 0 0 0 572.15 391.32ZM572.15 391.32A125.67 125.67 0 0 1 571.8 398.97L557.68 397.89A111.5 111.5 0 0 0 557.99 391.1ZM557.99 391.1A111.5 111.5 0 0 1 557.68 397.89L543.55 396.81A97.33 97.33 0 0 0 543.82 390.88ZM543.82 390.88A97.33 97.33 0 0 1 543.55 396.81L529.43 395.74A83.17 83.17 0 0 0 529.66 390.67ZM529.66 390.67A83.17 83.17 0 0 1 529.43 395.74L515.3 394.66A69 69 0 0 0 515.49 390.45ZM585.93 400.05A139.83 139.83 0 0 1 585.02 408.53L570.98 406.59A125.67 125.67 0 0 0 571.8 398.97ZM571.8 398.97A125.67 125.67 0 0 1 570.98 406.59L556.95 404.66A111.5 111.5 0 0 0 557.68 397.89ZM543.55 396.81A97.33 97.33 0 0 1 542.92 402.72L528.88 400.78A83.17 83.17 0 0 0 529.43 395.74ZM529.43 395.74A83.17 83.17 0 0 1 528.88 400.78L514.85 398.84A69 69 0 0 0 515.3 394.66ZM585.02 408.53A139.83 139.83 0 0 1 583.59 416.94L569.71 414.15A125.67 125.67 0 0 0 570.98 406.59ZM570.98 406.59A125.67 125.67 0 0 1 569.71 414.15L555.82 411.36A111.5 111.5 0 0 0 556.95 404.66ZM556.95 404.66A111.5 111.5 0 0 1 555.82 411.36L541.93 408.57A97.33 97.33 0 0 0 542.92 402.72ZM542.92 402.72A97.33 97.33 0 0 1 541.93 408.57L528.04 405.78A83.17 83.17 0 0 0 528.88 400.78ZM528.88 400.78A83.17 83.17 0 0 1 528.04 405.78L514.15 402.99A69 69 0 0 0 514.85 398.84ZM583.59 416.94A139.83 139.83 0 0 1 581.66 425.25L567.97 421.62A125.67 125.67 0 0 0 569.71 414.15ZM569.71 414.15A125.67 125.67 0 0 1 567.97 421.62L554.27 417.98A111.5 111.5 0 0 0 555.82 411.36ZM555.82 411.36A111.5 111.5 0 0 1 554.27 417.98L540.58 414.35A97.33 97.33 0 0 0 541.93 408.57ZM541.93 408.57A97.33 97.33 0 0 1 540.58 414.35L526.89 410.72A83.17 83.17 0 0 0 528.04 405.78ZM528.04 405.78A83.17 83.17 0 0 1 526.89 410.72L513.19 407.09A69 69 0 0 0 514.15 402.99ZM581.66 425.25A139.83 139.83 0 0 1 579.22 433.42L565.78 428.96A125.67 125.67 0 0 0 567.97 421.62ZM567.97 421.62A125.67 125.67 0 0 1 565.78 428.96L552.33 424.5A111.5 111.5 0 0 0 554.27 417.98ZM554.27 417.98A111.5 111.5 0 0 1 552.33 424.5L538.88 420.04A97.33 97.33 0 0 0 540.58 414.35ZM540.58 414.35A97.33 97.33 0 0 1 538.88 420.04L525.44 415.58A83.17 83.17 0 0 0 526.89 410.72ZM526.89 410.72A83.17 83.17 0 0 1 525.44 415.58L511.99 411.12A69 69 0 0 0 513.19 407.09ZM579.22 433.42A139.83 139.83 0 0 1 576.29 441.43L563.14 436.16A125.67 125.67 0 0 0 565.78 428.96ZM565.78 428.96A125.67 125.67 0 0 1 563.14 436.16L549.99 430.89A111.5 111.5 0 0 0 552.33 424.5ZM552.33 424.5A111.5 111.5 0 0 1 549.99 430.89L536.84 425.62A97.33 97.33 0 0 0 538.88 420.04ZM538.88 420.04A97.33 97.33 0 0 1 536.84 425.62L523.69 420.35A83.17 83.17 0 0 0 525.44 415.58ZM525.44 415.58A83.17 83.17 0 0 1 523.69 420.35L510.55 415.07A69 69 0 0 0 511.99 411.12ZM589.44 446.7A154 154 0 0 1 585.68 455.31L572.88 449.25A139.83 139.83 0 0 0 576.29 441.43ZM576.29 441.43A139.83 139.83 0 0 1 572.88 449.25L560.08 443.18A125.67 125.67 0 0 0 563.14 436.16ZM563.14 436.16A125.67 125.67 0 0 1 560.08 443.18L547.27 437.12A111.5 111.5 0 0 0 549.99 430.89ZM549.99 430.89A111.5 111.5 0 0 1 547.27 437.12L534.47 431.06A97.33 97.33 0 0 0 536.84 425.62ZM536.84 425.62A97.33 97.33 0 0 1 534.47 431.06L521.66 424.99A83.17 83.17 0 0 0 523.69 420.35ZM523.69 420.35A83.17 83.17 0 0 1 521.66 424.99L508.86 418.93A69 69 0 0 0 510.55 415.07ZM572.88 449.25A139.83 139.83 0 0 1 569 456.84L556.59 450.01A125.67 125.67 0 0 0 560.08 443.18ZM560.08 443.18A125.67 125.67 0 0 1 556.59 450.01L544.18 443.18A111.5 111.5 0 0 0 547.27 437.12ZM547.27 437.12A111.5 111.5 0 0 1 544.18 443.18L531.77 436.34A97.33 97.33 0 0 0 534.47 431.06ZM521.66 424.99A83.17 83.17 0 0 1 519.36 429.51L506.94 422.68A69 69 0 0 0 508.86 418.93ZM581.41 463.67A154 154 0 0 1 576.63 471.76L564.66 464.18A139.83 139.83 0 0 0 569 456.84ZM569 456.84A139.83 139.83 0 0 1 564.66 464.18L552.69 456.61A125.67 125.67 0 0 0 556.59 450.01ZM556.59 450.01A125.67 125.67 0 0 1 552.69 456.61L540.72 449.03A111.5 111.5 0 0 0 544.18 443.18ZM544.18 443.18A111.5 111.5 0 0 1 540.72 449.03L528.74 441.45A97.33 97.33 0 0 0 531.77 436.34ZM531.77 436.34A97.33 97.33 0 0 1 528.74 441.45L516.77 433.88A83.17 83.17 0 0 0 519.36 429.51ZM519.36 429.51A83.17 83.17 0 0 1 516.77 433.88L504.8 426.3A69 69 0 0 0 506.94 422.68ZM576.63 471.76A154 154 0 0 1 571.36 479.54L559.88 471.25A139.83 139.83 0 0 0 564.66 464.18ZM564.66 464.18A139.83 139.83 0 0 1 559.88 471.25L548.39 462.95A125.67 125.67 0 0 0 552.69 456.61ZM552.69 456.61A125.67 125.67 0 0 1 548.39 462.95L536.9 454.66A111.5 111.5 0 0 0 540.72 449.03ZM528.74 441.45A97.33 97.33 0 0 1 525.42 446.37L513.93 438.08A83.17 83.17 0 0 0 516.77 433.88ZM516.77 433.88A83.17 83.17 0 0 1 513.93 438.08L502.45 429.79A69 69 0 0 0 504.8 426.3ZM559.88 471.25A139.83 139.83 0 0 1 554.68 478.01L543.72 469.03A125.67 125.67 0 0 0 548.39 462.95ZM548.39 462.95A125.67 125.67 0 0 1 543.72 469.03L532.76 460.05A111.5 111.5 0 0 0 536.9 454.66ZM536.9 454.66A111.5 111.5 0 0 1 532.76 460.05L521.8 451.08A97.33 97.33 0 0 0 525.42 446.37ZM525.42 446.37A97.33 97.33 0 0 1 521.8 451.08L510.84 442.1A83.17 83.17 0 0 0 513.93 438.08ZM513.93 438.08A83.17 83.17 0 0 1 510.84 442.1L499.88 433.12A69 69 0 0 0 502.45 429.79ZM554.68 478.01A139.83 139.83 0 0 1 549.07 484.44L538.68 474.81A125.67 125.67 0 0 0 543.72 469.03ZM543.72 469.03A125.67 125.67 0 0 1 538.68 474.81L528.29 465.18A111.5 111.5 0 0 0 532.76 460.05ZM532.76 460.05A111.5 111.5 0 0 1 528.29 465.18L517.9 455.55A97.33 97.33 0 0 0 521.8 451.08ZM521.8 451.08A97.33 97.33 0 0 1 517.9 455.55L507.51 445.92A83.17 83.17 0 0 0 510.84 442.1ZM510.84 442.1A83.17 83.17 0 0 1 507.51 445.92L497.11 436.3A69 69 0 0 0 499.88 433.12ZM549.07 484.44A139.83 139.83 0 0 1 543.09 490.51L533.3 480.27A125.67 125.67 0 0 0 538.68 474.81ZM538.68 474.81A125.67 125.67 0 0 1 533.3 480.27L523.52 470.03A111.5 111.5 0 0 0 528.29 465.18ZM528.29 465.18A111.5 111.5 0 0 1 523.52 470.03L513.73 459.78A97.33 97.33 0 0 0 517.9 455.55ZM517.9 455.55A97.33 97.33 0 0 1 513.73 459.78L503.95 449.54A83.17 83.17 0 0 0 507.51 445.92ZM507.51 445.92A83.17 83.17 0 0 1 503.95 449.54L494.16 439.29A69 69 0 0 0 497.11 436.3ZM543.09 490.51A139.83 139.83 0 0 1 536.75 496.21L527.6 485.39A125.67 125.67 0 0 0 533.3 480.27ZM523.52 470.03A111.5 111.5 0 0 1 518.46 474.57L509.32 463.75A97.33 97.33 0 0 0 513.73 459.78ZM513.73 459.78A97.33 97.33 0 0 1 509.32 463.75L500.17 452.93A83.17 83.17 0 0 0 503.95 449.54ZM503.95 449.54A83.17 83.17 0 0 1 500.17 452.93L491.03 442.11A69 69 0 0 0 494.16 439.29ZM536.75 496.21A139.83 139.83 0 0 1 530.07 501.52L521.6 490.16A125.67 125.67 0 0 0 527.6 485.39ZM527.6 485.39A125.67 125.67 0 0 1 521.6 490.16L513.13 478.8A111.5 111.5 0 0 0 518.46 474.57ZM518.46 474.57A111.5 111.5 0 0 1 513.13 478.8L504.67 467.44A97.33 97.33 0 0 0 509.32 463.75ZM509.32 463.75A97.33 97.33 0 0 1 504.67 467.44L496.2 456.08A83.17 83.17 0 0 0 500.17 452.93ZM500.17 452.93A83.17 83.17 0 0 1 496.2 456.08L487.74 444.72A69 69 0 0 0 491.03 442.11ZM530.07 501.52A139.83 139.83 0 0 1 523.08 506.4L515.32 494.55A125.67 125.67 0 0 0 521.6 490.16ZM521.6 490.16A125.67 125.67 0 0 1 515.32 494.55L507.56 482.7A111.5 111.5 0 0 0 513.13 478.8ZM513.13 478.8A111.5 111.5 0 0 1 507.56 482.7L499.8 470.84A97.33 97.33 0 0 0 504.67 467.44ZM504.67 467.44A97.33 97.33 0 0 1 499.8 470.84L492.04 458.99A83.17 83.17 0 0 0 496.2 456.08ZM496.2 456.08A83.17 83.17 0 0 1 492.04 458.99L484.29 447.13A69 69 0 0 0 487.74 444.72ZM523.08 506.4A139.83 139.83 0 0 1 515.8 510.85L508.78 498.55A125.67 125.67 0 0 0 515.32 494.55ZM515.32 494.55A125.67 125.67 0 0 1 508.78 498.55L501.76 486.24A111.5 111.5 0 0 0 507.56 482.7ZM507.56 482.7A111.5 111.5 0 0 1 501.76 486.24L494.74 473.94A97.33 97.33 0 0 0 499.8 470.84ZM492.04 458.99A83.17 83.17 0 0 1 487.72 461.63L480.7 449.33A69 69 0 0 0 484.29 447.13ZM515.8 510.85A139.83 139.83 0 0 1 508.27 514.85L502.01 502.14A125.67 125.67 0 0 0 508.78 498.55ZM508.78 498.55A125.67 125.67 0 0 1 502.01 502.14L495.75 489.43A111.5 111.5 0 0 0 501.76 486.24ZM501.76 486.24A111.5 111.5 0 0 1 495.75 489.43L489.49 476.72A97.33 97.33 0 0 0 494.74 473.94ZM494.74 473.94A97.33 97.33 0 0 1 489.49 476.72L483.24 464.01A83.17 83.17 0 0 0 487.72 461.63ZM487.72 461.63A83.17 83.17 0 0 1 483.24 464.01L476.98 451.3A69 69 0 0 0 480.7 449.33ZM502.01 502.14A125.67 125.67 0 0 1 495.03 505.32L489.56 492.25A111.5 111.5 0 0 0 495.75 489.43ZM495.75 489.43A111.5 111.5 0 0 1 489.56 492.25L484.09 479.18A97.33 97.33 0 0 0 489.49 476.72ZM489.49 476.72A97.33 97.33 0 0 1 484.09 479.18L478.62 466.11A83.17 83.17 0 0 0 483.24 464.01ZM483.24 464.01A83.17 83.17 0 0 1 478.62 466.11L473.15 453.05A69 69 0 0 0 476.98 451.3ZM500.5 518.38A139.83 139.83 0 0 1 492.54 521.44L487.88 508.06A125.67 125.67 0 0 0 495.03 505.32ZM489.56 492.25A111.5 111.5 0 0 1 483.21 494.68L478.55 481.31A97.33 97.33 0 0 0 484.09 479.18ZM484.09 479.18A97.33 97.33 0 0 1 478.55 481.31L473.88 467.93A83.17 83.17 0 0 0 478.62 466.11ZM478.62 466.11A83.17 83.17 0 0 1 473.88 467.93L469.22 454.55A69 69 0 0 0 473.15 453.05ZM492.54 521.44A139.83 139.83 0 0 1 484.41 524L480.56 510.36A125.67 125.67 0 0 0 487.88 508.06ZM483.21 494.68A111.5 111.5 0 0 1 476.72 496.73L472.88 483.09A97.33 97.33 0 0 0 478.55 481.31ZM478.55 481.31A97.33 97.33 0 0 1 472.88 483.09L469.04 469.45A83.17 83.17 0 0 0 473.88 467.93ZM473.88 467.93A83.17 83.17 0 0 1 469.04 469.45L465.2 455.82A69 69 0 0 0 469.22 454.55ZM484.41 524A139.83 139.83 0 0 1 476.13 526.06L473.13 512.21A125.67 125.67 0 0 0 480.56 510.36ZM480.56 510.36A125.67 125.67 0 0 1 473.13 512.21L470.13 498.37A111.5 111.5 0 0 0 476.72 496.73ZM472.88 483.09A97.33 97.33 0 0 1 467.12 484.52L464.12 470.68A83.17 83.17 0 0 0 469.04 469.45ZM469.04 469.45A83.17 83.17 0 0 1 464.12 470.68L461.12 456.83A69 69 0 0 0 465.2 455.82ZM476.13 526.06A139.83 139.83 0 0 1 467.74 527.61L465.59 513.61A125.67 125.67 0 0 0 473.13 512.21ZM473.13 512.21A125.67 125.67 0 0 1 465.59 513.61L463.44 499.61A111.5 111.5 0 0 0 470.13 498.37ZM467.12 484.52A97.33 97.33 0 0 1 461.29 485.6L459.13 471.6A83.17 83.17 0 0 0 464.12 470.68ZM464.12 470.68A83.17 83.17 0 0 1 459.13 471.6L456.98 457.6A69 69 0 0 0 461.12 456.83ZM465.59 513.61A125.67 125.67 0 0 1 457.98 514.54L456.69 500.43A111.5 111.5 0 0 0 463.44 499.61ZM463.44 499.61A111.5 111.5 0 0 1 456.69 500.43L455.39 486.33A97.33 97.33 0 0 0 461.29 485.6ZM461.29 485.6A97.33 97.33 0 0 1 455.39 486.33L454.1 472.22A83.17 83.17 0 0 0 459.13 471.6ZM459.13 471.6A83.17 83.17 0 0 1 454.1 472.22L452.8 458.11A69 69 0 0 0 456.98 457.6ZM457.98 514.54A125.67 125.67 0 0 1 450.33 515.01L449.9 500.85A111.5 111.5 0 0 0 456.69 500.43ZM456.69 500.43A111.5 111.5 0 0 1 449.9 500.85L449.47 486.69A97.33 97.33 0 0 0 455.39 486.33ZM455.39 486.33A97.33 97.33 0 0 1 449.47 486.69L449.04 472.53A83.17 83.17 0 0 0 454.1 472.22ZM454.1 472.22A83.17 83.17 0 0 1 449.04 472.53L448.6 458.37A69 69 0 0 0 452.8 458.11ZM450.76 529.17A139.83 139.83 0 0 1 442.24 529.17L442.67 515.01A125.67 125.67 0 0 0 450.33 515.01ZM449.9 500.85A111.5 111.5 0 0 1 443.1 500.85L443.53 486.69A97.33 97.33 0 0 0 449.47 486.69ZM449.47 486.69A97.33 97.33 0 0 1 443.53 486.69L443.96 472.53A83.17 83.17 0 0 0 449.04 472.53ZM449.04 472.53A83.17 83.17 0 0 1 443.96 472.53L444.4 458.37A69 69 0 0 0 448.6 458.37ZM442.24 529.17A139.83 139.83 0 0 1 433.72 528.65L435.02 514.54A125.67 125.67 0 0 0 442.67 515.01ZM443.1 500.85A111.5 111.5 0 0 1 436.31 500.43L437.61 486.33A97.33 97.33 0 0 0 443.53 486.69ZM443.53 486.69A97.33 97.33 0 0 1 437.61 486.33L438.9 472.22A83.17 83.17 0 0 0 443.96 472.53ZM443.96 472.53A83.17 83.17 0 0 1 438.9 472.22L440.2 458.11A69 69 0 0 0 444.4 458.37ZM435.02 514.54A125.67 125.67 0 0 1 427.41 513.61L429.56 499.61A111.5 111.5 0 0 0 436.31 500.43ZM436.31 500.43A111.5 111.5 0 0 1 429.56 499.61L431.71 485.6A97.33 97.33 0 0 0 437.61 486.33ZM437.61 486.33A97.33 97.33 0 0 1 431.71 485.6L433.87 471.6A83.17 83.17 0 0 0 438.9 472.22ZM438.9 472.22A83.17 83.17 0 0 1 433.87 471.6L436.02 457.6A69 69 0 0 0 440.2 458.11ZM427.41 513.61A125.67 125.67 0 0 1 419.87 512.21L422.87 498.37A111.5 111.5 0 0 0 429.56 499.61ZM429.56 499.61A111.5 111.5 0 0 1 422.87 498.37L425.88 484.52A97.33 97.33 0 0 0 431.71 485.6ZM431.71 485.6A97.33 97.33 0 0 1 425.88 484.52L428.88 470.68A83.17 83.17 0 0 0 433.87 471.6ZM433.87 471.6A83.17 83.17 0 0 1 428.88 470.68L431.88 456.83A69 69 0 0 0 436.02 457.6ZM419.87 512.21A125.67 125.67 0 0 1 412.44 510.36L416.28 496.73A111.5 111.5 0 0 0 422.87 498.37ZM422.87 498.37A111.5 111.5 0 0 1 416.28 496.73L420.12 483.09A97.33 97.33 0 0 0 425.88 484.52ZM425.88 484.52A97.33 97.33 0 0 1 420.12 483.09L423.96 469.45A83.17 83.17 0 0 0 428.88 470.68ZM428.88 470.68A83.17 83.17 0 0 1 423.96 469.45L427.8 455.82A69 69 0 0 0 431.88 456.83ZM408.59 524A139.83 139.83 0 0 1 400.46 521.44L405.12 508.06A125.67 125.67 0 0 0 412.44 510.36ZM412.44 510.36A125.67 125.67 0 0 1 405.12 508.06L409.79 494.68A111.5 111.5 0 0 0 416.28 496.73ZM420.12 483.09A97.33 97.33 0 0 1 414.45 481.31L419.12 467.93A83.17 83.17 0 0 0 423.96 469.45ZM423.96 469.45A83.17 83.17 0 0 1 419.12 467.93L423.78 454.55A69 69 0 0 0 427.8 455.82ZM405.12 508.06A125.67 125.67 0 0 1 397.97 505.32L403.44 492.25A111.5 111.5 0 0 0 409.79 494.68ZM409.79 494.68A111.5 111.5 0 0 1 403.44 492.25L408.91 479.18A97.33 97.33 0 0 0 414.45 481.31ZM414.45 481.31A97.33 97.33 0 0 1 408.91 479.18L414.38 466.11A83.17 83.17 0 0 0 419.12 467.93ZM419.12 467.93A83.17 83.17 0 0 1 414.38 466.11L419.85 453.05A69 69 0 0 0 423.78 454.55ZM392.5 518.38A139.83 139.83 0 0 1 384.73 514.85L390.99 502.14A125.67 125.67 0 0 0 397.97 505.32ZM403.44 492.25A111.5 111.5 0 0 1 397.25 489.43L403.51 476.72A97.33 97.33 0 0 0 408.91 479.18ZM408.91 479.18A97.33 97.33 0 0 1 403.51 476.72L409.76 464.01A83.17 83.17 0 0 0 414.38 466.11ZM414.38 466.11A83.17 83.17 0 0 1 409.76 464.01L416.02 451.3A69 69 0 0 0 419.85 453.05ZM390.99 502.14A125.67 125.67 0 0 1 384.22 498.55L391.24 486.24A111.5 111.5 0 0 0 397.25 489.43ZM397.25 489.43A111.5 111.5 0 0 1 391.24 486.24L398.26 473.94A97.33 97.33 0 0 0 403.51 476.72ZM403.51 476.72A97.33 97.33 0 0 1 398.26 473.94L405.28 461.63A83.17 83.17 0 0 0 409.76 464.01ZM409.76 464.01A83.17 83.17 0 0 1 405.28 461.63L412.3 449.33A69 69 0 0 0 416.02 451.3ZM384.22 498.55A125.67 125.67 0 0 1 377.68 494.55L385.44 482.7A111.5 111.5 0 0 0 391.24 486.24ZM391.24 486.24A111.5 111.5 0 0 1 385.44 482.7L393.2 470.84A97.33 97.33 0 0 0 398.26 473.94ZM398.26 473.94A97.33 97.33 0 0 1 393.2 470.84L400.96 458.99A83.17 83.17 0 0 0 405.28 461.63ZM405.28 461.63A83.17 83.17 0 0 1 400.96 458.99L408.71 447.13A69 69 0 0 0 412.3 449.33ZM377.68 494.55A125.67 125.67 0 0 1 371.4 490.16L379.87 478.8A111.5 111.5 0 0 0 385.44 482.7ZM385.44 482.7A111.5 111.5 0 0 1 379.87 478.8L388.33 467.44A97.33 97.33 0 0 0 393.2 470.84ZM393.2 470.84A97.33 97.33 0 0 1 388.33 467.44L396.8 456.08A83.17 83.17 0 0 0 400.96 458.99ZM400.96 458.99A83.17 83.17 0 0 1 396.8 456.08L405.26 444.72A69 69 0 0 0 408.71 447.13ZM371.4 490.16A125.67 125.67 0 0 1 365.4 485.39L374.54 474.57A111.5 111.5 0 0 0 379.87 478.8ZM379.87 478.8A111.5 111.5 0 0 1 374.54 474.57L383.68 463.75A97.33 97.33 0 0 0 388.33 467.44ZM388.33 467.44A97.33 97.33 0 0 1 383.68 463.75L392.83 452.93A83.17 83.17 0 0 0 396.8 456.08ZM396.8 456.08A83.17 83.17 0 0 1 392.83 452.93L401.97 442.11A69 69 0 0 0 405.26 444.72ZM365.4 485.39A125.67 125.67 0 0 1 359.7 480.27L369.48 470.03A111.5 111.5 0 0 0 374.54 474.57ZM374.54 474.57A111.5 111.5 0 0 1 369.48 470.03L379.27 459.78A97.33 97.33 0 0 0 383.68 463.75ZM383.68 463.75A97.33 97.33 0 0 1 379.27 459.78L389.05 449.54A83.17 83.17 0 0 0 392.83 452.93ZM392.83 452.93A83.17 83.17 0 0 1 389.05 449.54L398.84 439.29A69 69 0 0 0 401.97 442.11ZM359.7 480.27A125.67 125.67 0 0 1 354.32 474.81L364.71 465.18A111.5 111.5 0 0 0 369.48 470.03ZM369.48 470.03A111.5 111.5 0 0 1 364.71 465.18L375.1 455.55A97.33 97.33 0 0 0 379.27 459.78ZM379.27 459.78A97.33 97.33 0 0 1 375.1 455.55L385.49 445.92A83.17 83.17 0 0 0 389.05 449.54ZM389.05 449.54A83.17 83.17 0 0 1 385.49 445.92L395.89 436.3A69 69 0 0 0 398.84 439.29ZM354.32 474.81A125.67 125.67 0 0 1 349.28 469.03L360.24 460.05A111.5 111.5 0 0 0 364.71 465.18ZM364.71 465.18A111.5 111.5 0 0 1 360.24 460.05L371.2 451.08A97.33 97.33 0 0 0 375.1 455.55ZM375.1 455.55A97.33 97.33 0 0 1 371.2 451.08L382.16 442.1A83.17 83.17 0 0 0 385.49 445.92ZM385.49 445.92A83.17 83.17 0 0 1 382.16 442.1L393.12 433.12A69 69 0 0 0 395.89 436.3ZM338.32 478.01A139.83 139.83 0 0 1 333.12 471.25L344.61 462.95A125.67 125.67 0 0 0 349.28 469.03ZM360.24 460.05A111.5 111.5 0 0 1 356.1 454.66L367.58 446.37A97.33 97.33 0 0 0 371.2 451.08ZM371.2 451.08A97.33 97.33 0 0 1 367.58 446.37L379.07 438.08A83.17 83.17 0 0 0 382.16 442.1ZM382.16 442.1A83.17 83.17 0 0 1 379.07 438.08L390.55 429.79A69 69 0 0 0 393.12 433.12ZM333.12 471.25A139.83 139.83 0 0 1 328.34 464.18L340.31 456.61A125.67 125.67 0 0 0 344.61 462.95ZM356.1 454.66A111.5 111.5 0 0 1 352.28 449.03L364.26 441.45A97.33 97.33 0 0 0 367.58 446.37ZM367.58 446.37A97.33 97.33 0 0 1 364.26 441.45L376.23 433.88A83.17 83.17 0 0 0 379.07 438.08ZM379.07 438.08A83.17 83.17 0 0 1 376.23 433.88L388.2 426.3A69 69 0 0 0 390.55 429.79ZM340.31 456.61A125.67 125.67 0 0 1 336.41 450.01L348.82 443.18A111.5 111.5 0 0 0 352.28 449.03ZM352.28 449.03A111.5 111.5 0 0 1 348.82 443.18L361.23 436.34A97.33 97.33 0 0 0 364.26 441.45ZM364.26 441.45A97.33 97.33 0 0 1 361.23 436.34L373.64 429.51A83.17 83.17 0 0 0 376.23 433.88ZM376.23 433.88A83.17 83.17 0 0 1 373.64 429.51L386.06 422.68A69 69 0 0 0 388.2 426.3ZM324 456.84A139.83 139.83 0 0 1 320.12 449.25L332.92 443.18A125.67 125.67 0 0 0 336.41 450.01ZM348.82 443.18A111.5 111.5 0 0 1 345.73 437.12L358.53 431.06A97.33 97.33 0 0 0 361.23 436.34ZM361.23 436.34A97.33 97.33 0 0 1 358.53 431.06L371.34 424.99A83.17 83.17 0 0 0 373.64 429.51ZM373.64 429.51A83.17 83.17 0 0 1 371.34 424.99L384.14 418.93A69 69 0 0 0 386.06 422.68ZM332.92 443.18A125.67 125.67 0 0 1 329.86 436.16L343.01 430.89A111.5 111.5 0 0 0 345.73 437.12ZM345.73 437.12A111.5 111.5 0 0 1 343.01 430.89L356.16 425.62A97.33 97.33 0 0 0 358.53 431.06ZM358.53 431.06A97.33 97.33 0 0 1 356.16 425.62L369.31 420.35A83.17 83.17 0 0 0 371.34 424.99ZM371.34 424.99A83.17 83.17 0 0 1 369.31 420.35L382.45 415.07A69 69 0 0 0 384.14 418.93ZM343.01 430.89A111.5 111.5 0 0 1 340.67 424.5L354.12 420.04A97.33 97.33 0 0 0 356.16 425.62ZM356.16 425.62A97.33 97.33 0 0 1 354.12 420.04L367.56 415.58A83.17 83.17 0 0 0 369.31 420.35ZM369.31 420.35A83.17 83.17 0 0 1 367.56 415.58L381.01 411.12A69 69 0 0 0 382.45 415.07ZM300.33 437.88A154 154 0 0 1 297.65 428.88L311.34 425.25A139.83 139.83 0 0 0 313.78 433.42ZM327.22 428.96A125.67 125.67 0 0 1 325.03 421.62L338.73 417.98A111.5 111.5 0 0 0 340.67 424.5ZM367.56 415.58A83.17 83.17 0 0 1 366.11 410.72L379.81 407.09A69 69 0 0 0 381.01 411.12ZM325.03 421.62A125.67 125.67 0 0 1 323.29 414.15L337.18 411.36A111.5 111.5 0 0 0 338.73 417.98ZM338.73 417.98A111.5 111.5 0 0 1 337.18 411.36L351.07 408.57A97.33 97.33 0 0 0 352.42 414.35ZM352.42 414.35A97.33 97.33 0 0 1 351.07 408.57L364.96 405.78A83.17 83.17 0 0 0 366.11 410.72ZM366.11 410.72A83.17 83.17 0 0 1 364.96 405.78L378.85 402.99A69 69 0 0 0 379.81 407.09ZM351.07 408.57A97.33 97.33 0 0 1 350.08 402.72L364.12 400.78A83.17 83.17 0 0 0 364.96 405.78ZM364.96 405.78A83.17 83.17 0 0 1 364.12 400.78L378.15 398.84A69 69 0 0 0 378.85 402.99ZM322.02 406.59A125.67 125.67 0 0 1 321.2 398.97L335.32 397.89A111.5 111.5 0 0 0 336.05 404.66ZM350.08 402.72A97.33 97.33 0 0 1 349.45 396.81L363.57 395.74A83.17 83.17 0 0 0 364.12 400.78ZM364.12 400.78A83.17 83.17 0 0 1 363.57 395.74L377.7 394.66A69 69 0 0 0 378.15 398.84ZM321.2 398.97A125.67 125.67 0 0 1 320.85 391.32L335.01 391.1A111.5 111.5 0 0 0 335.32 397.89ZM335.32 397.89A111.5 111.5 0 0 1 335.01 391.1L349.18 390.88A97.33 97.33 0 0 0 349.45 396.81ZM320.85 391.32A125.67 125.67 0 0 1 320.96 383.65L335.12 384.3A111.5 111.5 0 0 0 335.01 391.1ZM335.01 391.1A111.5 111.5 0 0 1 335.12 384.3L349.27 384.95A97.33 97.33 0 0 0 349.18 390.88ZM349.18 390.88A97.33 97.33 0 0 1 349.27 384.95L363.42 385.6A83.17 83.17 0 0 0 363.34 390.67ZM363.34 390.67A83.17 83.17 0 0 1 363.42 385.6L377.57 386.24A69 69 0 0 0 377.51 390.45ZM306.81 383A139.83 139.83 0 0 1 307.46 374.5L321.55 376.01A125.67 125.67 0 0 0 320.96 383.65ZM349.27 384.95A97.33 97.33 0 0 1 349.72 379.03L363.81 380.54A83.17 83.17 0 0 0 363.42 385.6ZM321.55 376.01A125.67 125.67 0 0 1 322.6 368.42L336.57 370.78A111.5 111.5 0 0 0 335.63 377.52ZM349.72 379.03A97.33 97.33 0 0 1 350.53 373.15L364.5 375.51A83.17 83.17 0 0 0 363.81 380.54ZM363.81 380.54A83.17 83.17 0 0 1 364.5 375.51L378.47 377.88A69 69 0 0 0 377.89 382.05ZM308.63 366.05A139.83 139.83 0 0 1 310.31 357.69L324.11 360.9A125.67 125.67 0 0 0 322.6 368.42ZM322.6 368.42A125.67 125.67 0 0 1 324.11 360.9L337.9 364.12A111.5 111.5 0 0 0 336.57 370.78ZM336.57 370.78A111.5 111.5 0 0 1 337.9 364.12L351.7 367.33A97.33 97.33 0 0 0 350.53 373.15ZM364.5 375.51A83.17 83.17 0 0 1 365.5 370.54L379.3 373.75A69 69 0 0 0 378.47 377.88ZM324.11 360.9A125.67 125.67 0 0 1 326.07 353.49L339.65 357.54A111.5 111.5 0 0 0 337.9 364.12ZM351.7 367.33A97.33 97.33 0 0 1 353.22 361.59L366.8 365.64A83.17 83.17 0 0 0 365.5 370.54ZM365.5 370.54A83.17 83.17 0 0 1 366.8 365.64L380.38 369.69A69 69 0 0 0 379.3 373.75ZM339.65 357.54A111.5 111.5 0 0 1 341.79 351.09L355.09 355.96A97.33 97.33 0 0 0 353.22 361.59ZM353.22 361.59A97.33 97.33 0 0 1 355.09 355.96L368.4 360.82A83.17 83.17 0 0 0 366.8 365.64ZM366.8 365.64A83.17 83.17 0 0 1 368.4 360.82L381.7 365.69A69 69 0 0 0 380.38 369.69ZM328.48 346.22A125.67 125.67 0 0 1 331.34 339.11L344.32 344.77A111.5 111.5 0 0 0 341.79 351.09ZM355.09 355.96A97.33 97.33 0 0 1 357.3 350.44L370.28 356.11A83.17 83.17 0 0 0 368.4 360.82ZM368.4 360.82A83.17 83.17 0 0 1 370.28 356.11L383.27 361.78A69 69 0 0 0 381.7 365.69ZM331.34 339.11A125.67 125.67 0 0 1 334.62 332.18L347.23 338.63A111.5 111.5 0 0 0 344.32 344.77ZM357.3 350.44A97.33 97.33 0 0 1 359.84 345.08L372.46 351.53A83.17 83.17 0 0 0 370.28 356.11ZM370.28 356.11A83.17 83.17 0 0 1 372.46 351.53L385.07 357.98A69 69 0 0 0 383.27 361.78ZM322 325.73A139.83 139.83 0 0 1 326.12 318.26L338.31 325.46A125.67 125.67 0 0 0 334.62 332.18ZM347.23 338.63A111.5 111.5 0 0 1 350.51 332.67L362.71 339.88A97.33 97.33 0 0 0 359.84 345.08ZM372.46 351.53A83.17 83.17 0 0 1 374.9 347.09L387.1 354.29A69 69 0 0 0 385.07 357.98ZM350.51 332.67A111.5 111.5 0 0 1 354.15 326.92L365.88 334.86A97.33 97.33 0 0 0 362.71 339.88ZM362.71 339.88A97.33 97.33 0 0 1 365.88 334.86L377.61 342.8A83.17 83.17 0 0 0 374.9 347.09ZM374.9 347.09A83.17 83.17 0 0 1 377.61 342.8L389.35 350.74A69 69 0 0 0 387.1 354.29ZM354.15 326.92A111.5 111.5 0 0 1 358.13 321.41L369.36 330.05A97.33 97.33 0 0 0 365.88 334.86ZM365.88 334.86A97.33 97.33 0 0 1 369.36 330.05L380.58 338.69A83.17 83.17 0 0 0 377.61 342.8ZM377.61 342.8A83.17 83.17 0 0 1 380.58 338.69L391.81 347.33A69 69 0 0 0 389.35 350.74ZM335.67 304.13A139.83 139.83 0 0 1 341.08 297.54L351.76 306.84A125.67 125.67 0 0 0 346.9 312.77ZM358.13 321.41A111.5 111.5 0 0 1 362.44 316.15L373.12 325.46A97.33 97.33 0 0 0 369.36 330.05ZM369.36 330.05A97.33 97.33 0 0 1 373.12 325.46L383.8 334.76A83.17 83.17 0 0 0 380.58 338.69ZM362.44 316.15A111.5 111.5 0 0 1 367.06 311.16L377.15 321.1A97.33 97.33 0 0 0 373.12 325.46ZM373.12 325.46A97.33 97.33 0 0 1 377.15 321.1L387.25 331.04A83.17 83.17 0 0 0 383.8 334.76ZM383.8 334.76A83.17 83.17 0 0 1 387.25 331.04L397.34 340.98A69 69 0 0 0 394.48 344.07ZM346.87 291.28A139.83 139.83 0 0 1 353.04 285.39L362.51 295.93A125.67 125.67 0 0 0 356.97 301.22ZM356.97 301.22A125.67 125.67 0 0 1 362.51 295.93L371.98 306.46A111.5 111.5 0 0 0 367.06 311.16ZM387.25 331.04A83.17 83.17 0 0 1 390.91 327.54L400.38 338.08A69 69 0 0 0 397.34 340.98ZM371.98 306.46A111.5 111.5 0 0 1 377.17 302.07L385.98 313.17A97.33 97.33 0 0 0 381.44 317ZM381.44 317A97.33 97.33 0 0 1 385.98 313.17L394.79 324.26A83.17 83.17 0 0 0 390.91 327.54ZM390.91 327.54A83.17 83.17 0 0 1 394.79 324.26L403.6 335.36A69 69 0 0 0 400.38 338.08ZM377.17 302.07A111.5 111.5 0 0 1 382.62 298.01L390.74 309.62A97.33 97.33 0 0 0 385.98 313.17ZM394.79 324.26A83.17 83.17 0 0 1 398.86 321.23L406.97 332.84A69 69 0 0 0 403.6 335.36ZM382.62 298.01A111.5 111.5 0 0 1 388.31 294.29L395.71 306.37A97.33 97.33 0 0 0 390.74 309.62ZM398.86 321.23A83.17 83.17 0 0 1 403.1 318.46L410.49 330.54A69 69 0 0 0 406.97 332.84ZM373.53 270.12A139.83 139.83 0 0 1 380.94 265.89L387.58 278.4A125.67 125.67 0 0 0 380.92 282.2ZM403.1 318.46A83.17 83.17 0 0 1 407.51 315.94L414.15 328.45A69 69 0 0 0 410.49 330.54ZM400.86 303.43A97.33 97.33 0 0 1 406.19 300.81L412.06 313.7A83.17 83.17 0 0 0 407.51 315.94ZM407.51 315.94A83.17 83.17 0 0 1 412.06 313.7L417.92 326.6A69 69 0 0 0 414.15 328.45ZM388.59 262.12A139.83 139.83 0 0 1 396.45 258.83L401.52 272.06A125.67 125.67 0 0 0 394.45 275.02ZM412.06 313.7A83.17 83.17 0 0 1 416.74 311.74L421.81 324.97A69 69 0 0 0 417.92 326.6ZM396.45 258.83A139.83 139.83 0 0 1 404.51 256.02L408.76 269.53A125.67 125.67 0 0 0 401.52 272.06ZM416.74 311.74A83.17 83.17 0 0 1 421.52 310.07L425.78 323.58A69 69 0 0 0 421.81 324.97ZM421.52 310.07A83.17 83.17 0 0 1 426.41 308.7L429.83 322.44A69 69 0 0 0 425.78 323.58ZM426.41 308.7A83.17 83.17 0 0 1 431.36 307.62L433.94 321.55A69 69 0 0 0 429.83 322.44ZM431.36 307.62A83.17 83.17 0 0 1 436.38 306.85L438.1 320.91A69 69 0 0 0 433.94 321.55ZM436.38 306.85A83.17 83.17 0 0 1 441.43 306.39L442.29 320.53A69 69 0 0 0 438.1 320.91Z" fill="#f7f7f7" stroke="#000" stroke-width="1.15"/>
<path d="M446.5 235.4A154 154 0 0 1 455.89 235.69L455.02 249.83A139.83 139.83 0 0 0 446.5 249.57ZM455.89 235.69A154 154 0 0 1 465.24 236.54L463.52 250.61A139.83 139.83 0 0 0 455.02 249.83ZM465.24 236.54A154 154 0 0 1 474.53 237.97L471.95 251.9A139.83 139.83 0 0 0 463.52 250.61ZM474.53 237.97A154 154 0 0 1 483.71 239.96L480.28 253.71A139.83 139.83 0 0 0 471.95 251.9ZM476.86 267.46A125.67 125.67 0 0 1 484.24 269.53L479.98 283.05A111.5 111.5 0 0 0 473.44 281.2ZM484.24 269.53A125.67 125.67 0 0 1 491.48 272.06L486.41 285.29A111.5 111.5 0 0 0 479.98 283.05ZM486.41 285.29A111.5 111.5 0 0 1 492.68 287.91L486.81 300.81A97.33 97.33 0 0 0 481.33 298.51ZM510.28 249.23A154 154 0 0 1 518.71 253.38L512.06 265.89A139.83 139.83 0 0 0 504.41 262.12ZM518.71 253.38A154 154 0 0 1 526.86 258.03L519.47 270.12A139.83 139.83 0 0 0 512.06 265.89ZM504.69 294.29A111.5 111.5 0 0 1 510.38 298.01L502.26 309.62A97.33 97.33 0 0 0 497.29 306.37ZM526.61 274.79A139.83 139.83 0 0 1 533.45 279.88L524.64 290.98A125.67 125.67 0 0 0 518.49 286.4ZM542.25 268.79A154 154 0 0 1 549.43 274.85L539.96 285.39A139.83 139.83 0 0 0 533.45 279.88ZM549.43 274.85A154 154 0 0 1 556.22 281.34L546.13 291.28A139.83 139.83 0 0 0 539.96 285.39ZM530.49 295.93A125.67 125.67 0 0 1 536.03 301.22L525.94 311.16A111.5 111.5 0 0 0 521.02 306.46ZM546.13 291.28A139.83 139.83 0 0 1 551.92 297.54L541.24 306.84A125.67 125.67 0 0 0 536.03 301.22ZM562.61 288.23A154 154 0 0 1 568.56 295.5L557.33 304.13A139.83 139.83 0 0 0 551.92 297.54ZM568.56 295.5A154 154 0 0 1 574.05 303.11L562.32 311.05A139.83 139.83 0 0 0 557.33 304.13ZM550.59 318.99A125.67 125.67 0 0 1 554.69 325.46L542.49 332.67A111.5 111.5 0 0 0 538.85 326.92ZM587.63 327.77A154 154 0 0 1 591.12 336.48L577.82 341.35A139.83 139.83 0 0 0 574.65 333.44ZM548.68 344.77A111.5 111.5 0 0 1 551.21 351.09L537.91 355.96A97.33 97.33 0 0 0 535.7 350.44ZM594.08 345.4A154 154 0 0 1 596.49 354.48L582.69 357.69A139.83 139.83 0 0 0 580.5 349.45ZM596.49 354.48A154 154 0 0 1 598.34 363.69L584.37 366.05A139.83 139.83 0 0 0 582.69 357.69ZM598.34 363.69A154 154 0 0 1 599.62 372.99L585.54 374.5A139.83 139.83 0 0 0 584.37 366.05ZM556.43 370.78A111.5 111.5 0 0 1 557.37 377.52L543.28 379.03A97.33 97.33 0 0 0 542.47 373.15ZM543.28 379.03A97.33 97.33 0 0 1 543.73 384.95L529.58 385.6A83.17 83.17 0 0 0 529.19 380.54ZM600.34 382.36A154 154 0 0 1 600.48 391.75L586.32 391.53A139.83 139.83 0 0 0 586.19 383ZM543.73 384.95A97.33 97.33 0 0 1 543.82 390.88L529.66 390.67A83.17 83.17 0 0 0 529.58 385.6ZM600.05 401.13A154 154 0 0 1 599.05 410.47L585.02 408.53A139.83 139.83 0 0 0 585.93 400.05ZM557.68 397.89A111.5 111.5 0 0 1 556.95 404.66L542.92 402.72A97.33 97.33 0 0 0 543.55 396.81ZM599.05 410.47A154 154 0 0 1 597.48 419.73L583.59 416.94A139.83 139.83 0 0 0 585.02 408.53ZM597.48 419.73A154 154 0 0 1 595.35 428.88L581.66 425.25A139.83 139.83 0 0 0 583.59 416.94ZM595.35 428.88A154 154 0 0 1 592.67 437.88L579.22 433.42A139.83 139.83 0 0 0 581.66 425.25ZM592.67 437.88A154 154 0 0 1 589.44 446.7L576.29 441.43A139.83 139.83 0 0 0 579.22 433.42ZM585.68 455.31A154 154 0 0 1 581.41 463.67L569 456.84A139.83 139.83 0 0 0 572.88 449.25ZM534.47 431.06A97.33 97.33 0 0 1 531.77 436.34L519.36 429.51A83.17 83.17 0 0 0 521.66 424.99ZM540.72 449.03A111.5 111.5 0 0 1 536.9 454.66L525.42 446.37A97.33 97.33 0 0 0 528.74 441.45ZM571.36 479.54A154 154 0 0 1 565.64 486.98L554.68 478.01A139.83 139.83 0 0 0 559.88 471.25ZM565.64 486.98A154 154 0 0 1 559.47 494.06L549.07 484.44A139.83 139.83 0 0 0 554.68 478.01ZM559.47 494.06A154 154 0 0 1 552.88 500.76L543.09 490.51A139.83 139.83 0 0 0 549.07 484.44ZM552.88 500.76A154 154 0 0 1 545.89 507.03L536.75 496.21A139.83 139.83 0 0 0 543.09 490.51ZM533.3 480.27A125.67 125.67 0 0 1 527.6 485.39L518.46 474.57A111.5 111.5 0 0 0 523.52 470.03ZM545.89 507.03A154 154 0 0 1 538.53 512.88L530.07 501.52A139.83 139.83 0 0 0 536.75 496.21ZM538.53 512.88A154 154 0 0 1 530.83 518.26L523.08 506.4A139.83 139.83 0 0 0 530.07 501.52ZM530.83 518.26A154 154 0 0 1 522.82 523.16L515.8 510.85A139.83 139.83 0 0 0 523.08 506.4ZM499.8 470.84A97.33 97.33 0 0 1 494.74 473.94L487.72 461.63A83.17 83.17 0 0 0 492.04 458.99ZM522.82 523.16A154 154 0 0 1 514.52 527.56L508.27 514.85A139.83 139.83 0 0 0 515.8 510.85ZM514.52 527.56A154 154 0 0 1 505.98 531.45L500.5 518.38A139.83 139.83 0 0 0 508.27 514.85ZM508.27 514.85A139.83 139.83 0 0 1 500.5 518.38L495.03 505.32A125.67 125.67 0 0 0 502.01 502.14ZM505.98 531.45A154 154 0 0 1 497.2 534.81L492.54 521.44A139.83 139.83 0 0 0 500.5 518.38ZM495.03 505.32A125.67 125.67 0 0 1 487.88 508.06L483.21 494.68A111.5 111.5 0 0 0 489.56 492.25ZM497.2 534.81A154 154 0 0 1 488.25 537.63L484.41 524A139.83 139.83 0 0 0 492.54 521.44ZM487.88 508.06A125.67 125.67 0 0 1 480.56 510.36L476.72 496.73A111.5 111.5 0 0 0 483.21 494.68ZM488.25 537.63A154 154 0 0 1 479.13 539.9L476.13 526.06A139.83 139.83 0 0 0 484.41 524ZM476.72 496.73A111.5 111.5 0 0 1 470.13 498.37L467.12 484.52A97.33 97.33 0 0 0 472.88 483.09ZM479.13 539.9A154 154 0 0 1 469.89 541.61L467.74 527.61A139.83 139.83 0 0 0 476.13 526.06ZM470.13 498.37A111.5 111.5 0 0 1 463.44 499.61L461.29 485.6A97.33 97.33 0 0 0 467.12 484.52ZM469.89 541.61A154 154 0 0 1 460.57 542.76L459.28 528.65A139.83 139.83 0 0 0 467.74 527.61ZM467.74 527.61A139.83 139.83 0 0 1 459.28 528.65L457.98 514.54A125.67 125.67 0 0 0 465.59 513.61ZM460.57 542.76A154 154 0 0 1 451.2 543.33L450.76 529.17A139.83 139.83 0 0 0 459.28 528.65ZM459.28 528.65A139.83 139.83 0 0 1 450.76 529.17L450.33 515.01A125.67 125.67 0 0 0 457.98 514.54ZM451.2 543.33A154 154 0 0 1 441.8 543.33L442.24 529.17A139.83 139.83 0 0 0 450.76 529.17ZM450.33 515.01A125.67 125.67 0 0 1 442.67 515.01L443.1 500.85A111.5 111.5 0 0 0 449.9 500.85ZM441.8 543.33A154 154 0 0 1 432.43 542.76L433.72 528.65A139.83 139.83 0 0 0 442.24 529.17ZM442.67 515.01A125.67 125.67 0 0 1 435.02 514.54L436.31 500.43A111.5 111.5 0 0 0 443.1 500.85ZM432.43 542.76A154 154 0 0 1 423.11 541.61L425.26 527.61A139.83 139.83 0 0 0 433.72 528.65ZM433.72 528.65A139.83 139.83 0 0 1 425.26 527.61L427.41 513.61A125.67 125.67 0 0 0 435.02 514.54ZM423.11 541.61A154 154 0 0 1 413.87 539.9L416.87 526.06A139.83 139.83 0 0 0 425.26 527.61ZM425.26 527.61A139.83 139.83 0 0 1 416.87 526.06L419.87 512.21A125.67 125.67 0 0 0 427.41 513.61ZM413.87 539.9A154 154 0 0 1 404.75 537.63L408.59 524A139.83 139.83 0 0 0 416.87 526.06ZM416.87 526.06A139.83 139.83 0 0 1 408.59 524L412.44 510.36A125.67 125.67 0 0 0 419.87 512.21ZM404.75 537.63A154 154 0 0 1 395.8 534.81L400.46 521.44A139.83 139.83 0 0 0 408.59 524ZM416.28 496.73A111.5 111.5 0 0 1 409.79 494.68L414.45 481.31A97.33 97.33 0 0 0 420.12 483.09ZM395.8 534.81A154 154 0 0 1 387.02 531.45L392.5 518.38A139.83 139.83 0 0 0 400.46 521.44ZM400.46 521.44A139.83 139.83 0 0 1 392.5 518.38L397.97 505.32A125.67 125.67 0 0 0 405.12 508.06ZM387.02 531.45A154 154 0 0 1 378.48 527.56L384.73 514.85A139.83 139.83 0 0 0 392.5 518.38ZM397.97 505.32A125.67 125.67 0 0 1 390.99 502.14L397.25 489.43A111.5 111.5 0 0 0 403.44 492.25ZM378.48 527.56A154 154 0 0 1 370.18 523.16L377.2 510.85A139.83 139.83 0 0 0 384.73 514.85ZM384.73 514.85A139.83 139.83 0 0 1 377.2 510.85L384.22 498.55A125.67 125.67 0 0 0 390.99 502.14ZM370.18 523.16A154 154 0 0 1 362.17 518.26L369.92 506.4A139.83 139.83 0 0 0 377.2 510.85ZM377.2 510.85A139.83 139.83 0 0 1 369.92 506.4L377.68 494.55A125.67 125.67 0 0 0 384.22 498.55ZM362.17 518.26A154 154 0 0 1 354.47 512.88L362.93 501.52A139.83 139.83 0 0 0 369.92 506.4ZM369.92 506.4A139.83 139.83 0 0 1 362.93 501.52L371.4 490.16A125.67 125.67 0 0 0 377.68 494.55ZM354.47 512.88A154 154 0 0 1 347.11 507.03L356.25 496.21A139.83 139.83 0 0 0 362.93 501.52ZM362.93 501.52A139.83 139.83 0 0 1 356.25 496.21L365.4 485.39A125.67 125.67 0 0 0 371.4 490.16ZM347.11 507.03A154 154 0 0 1 340.12 500.76L349.91 490.51A139.83 139.83 0 0 0 356.25 496.21ZM356.25 496.21A139.83 139.83 0 0 1 349.91 490.51L359.7 480.27A125.67 125.67 0 0 0 365.4 485.39ZM340.12 500.76A154 154 0 0 1 333.53 494.06L343.93 484.44A139.83 139.83 0 0 0 349.91 490.51ZM349.91 490.51A139.83 139.83 0 0 1 343.93 484.44L354.32 474.81A125.67 125.67 0 0 0 359.7 480.27ZM333.53 494.06A154 154 0 0 1 327.36 486.98L338.32 478.01A139.83 139.83 0 0 0 343.93 484.44ZM343.93 484.44A139.83 139.83 0 0 1 338.32 478.01L349.28 469.03A125.67 125.67 0 0 0 354.32 474.81ZM327.36 486.98A154 154 0 0 1 321.64 479.54L333.12 471.25A139.83 139.83 0 0 0 338.32 478.01ZM349.28 469.03A125.67 125.67 0 0 1 344.61 462.95L356.1 454.66A111.5 111.5 0 0 0 360.24 460.05ZM321.64 479.54A154 154 0 0 1 316.37 471.76L328.34 464.18A139.83 139.83 0 0 0 333.12 471.25ZM344.61 462.95A125.67 125.67 0 0 1 340.31 456.61L352.28 449.03A111.5 111.5 0 0 0 356.1 454.66ZM316.37 471.76A154 154 0 0 1 311.59 463.67L324 456.84A139.83 139.83 0 0 0 328.34 464.18ZM328.34 464.18A139.83 139.83 0 0 1 324 456.84L336.41 450.01A125.67 125.67 0 0 0 340.31 456.61ZM311.59 463.67A154 154 0 0 1 307.32 455.31L320.12 449.25A139.83 139.83 0 0 0 324 456.84ZM336.41 450.01A125.67 125.67 0 0 1 332.92 443.18L345.73 437.12A111.5 111.5 0 0 0 348.82 443.18ZM307.32 455.31A154 154 0 0 1 303.56 446.7L316.71 441.43A139.83 139.83 0 0 0 320.12 449.25ZM320.12 449.25A139.83 139.83 0 0 1 316.71 441.43L329.86 436.16A125.67 125.67 0 0 0 332.92 443.18ZM303.56 446.7A154 154 0 0 1 300.33 437.88L313.78 433.42A139.83 139.83 0 0 0 316.71 441.43ZM316.71 441.43A139.83 139.83 0 0 1 313.78 433.42L327.22 428.96A125.67 125.67 0 0 0 329.86 436.16ZM329.86 436.16A125.67 125.67 0 0 1 327.22 428.96L340.67 424.5A111.5 111.5 0 0 0 343.01 430.89ZM313.78 433.42A139.83 139.83 0 0 1 311.34 425.25L325.03 421.62A125.67 125.67 0 0 0 327.22 428.96ZM340.67 424.5A111.5 111.5 0 0 1 338.73 417.98L352.42 414.35A97.33 97.33 0 0 0 354.12 420.04ZM354.12 420.04A97.33 97.33 0 0 1 352.42 414.35L366.11 410.72A83.17 83.17 0 0 0 367.56 415.58ZM297.65 428.88A154 154 0 0 1 295.52 419.73L309.41 416.94A139.83 139.83 0 0 0 311.34 425.25ZM311.34 425.25A139.83 139.83 0 0 1 309.41 416.94L323.29 414.15A125.67 125.67 0 0 0 325.03 421.62ZM295.52 419.73A154 154 0 0 1 293.95 410.47L307.98 408.53A139.83 139.83 0 0 0 309.41 416.94ZM309.41 416.94A139.83 139.83 0 0 1 307.98 408.53L322.02 406.59A125.67 125.67 0 0 0 323.29 414.15ZM323.29 414.15A125.67 125.67 0 0 1 322.02 406.59L336.05 404.66A111.5 111.5 0 0 0 337.18 411.36ZM337.18 411.36A111.5 111.5 0 0 1 336.05 404.66L350.08 402.72A97.33 97.33 0 0 0 351.07 408.57ZM293.95 410.47A154 154 0 0 1 292.95 401.13L307.07 400.05A139.83 139.83 0 0 0 307.98 408.53ZM307.98 408.53A139.83 139.83 0 0 1 307.07 400.05L321.2 398.97A125.67 125.67 0 0 0 322.02 406.59ZM336.05 404.66A111.5 111.5 0 0 1 335.32 397.89L349.45 396.81A97.33 97.33 0 0 0 350.08 402.72ZM292.95 401.13A154 154 0 0 1 292.52 391.75L306.68 391.53A139.83 139.83 0 0 0 307.07 400.05ZM307.07 400.05A139.83 139.83 0 0 1 306.68 391.53L320.85 391.32A125.67 125.67 0 0 0 321.2 398.97ZM349.45 396.81A97.33 97.33 0 0 1 349.18 390.88L363.34 390.67A83.17 83.17 0 0 0 363.57 395.74ZM363.57 395.74A83.17 83.17 0 0 1 363.34 390.67L377.51 390.45A69 69 0 0 0 377.7 394.66ZM292.52 391.75A154 154 0 0 1 292.66 382.36L306.81 383A139.83 139.83 0 0 0 306.68 391.53ZM306.68 391.53A139.83 139.83 0 0 1 306.81 383L320.96 383.65A125.67 125.67 0 0 0 320.85 391.32ZM292.66 382.36A154 154 0 0 1 293.38 372.99L307.46 374.5A139.83 139.83 0 0 0 306.81 383ZM320.96 383.65A125.67 125.67 0 0 1 321.55 376.01L335.63 377.52A111.5 111.5 0 0 0 335.12 384.3ZM335.12 384.3A111.5 111.5 0 0 1 335.63 377.52L349.72 379.03A97.33 97.33 0 0 0 349.27 384.95ZM363.42 385.6A83.17 83.17 0 0 1 363.81 380.54L377.89 382.05A69 69 0 0 0 377.57 386.24ZM293.38 372.99A154 154 0 0 1 294.66 363.69L308.63 366.05A139.83 139.83 0 0 0 307.46 374.5ZM307.46 374.5A139.83 139.83 0 0 1 308.63 366.05L322.6 368.42A125.67 125.67 0 0 0 321.55 376.01ZM335.63 377.52A111.5 111.5 0 0 1 336.57 370.78L350.53 373.15A97.33 97.33 0 0 0 349.72 379.03ZM294.66 363.69A154 154 0 0 1 296.51 354.48L310.31 357.69A139.83 139.83 0 0 0 308.63 366.05ZM350.53 373.15A97.33 97.33 0 0 1 351.7 367.33L365.5 370.54A83.17 83.17 0 0 0 364.5 375.51ZM296.51 354.48A154 154 0 0 1 298.92 345.4L312.5 349.45A139.83 139.83 0 0 0 310.31 357.69ZM310.31 357.69A139.83 139.83 0 0 1 312.5 349.45L326.07 353.49A125.67 125.67 0 0 0 324.11 360.9ZM337.9 364.12A111.5 111.5 0 0 1 339.65 357.54L353.22 361.59A97.33 97.33 0 0 0 351.7 367.33ZM298.92 345.4A154 154 0 0 1 301.88 336.48L315.18 341.35A139.83 139.83 0 0 0 312.5 349.45ZM312.5 349.45A139.83 139.83 0 0 1 315.18 341.35L328.48 346.22A125.67 125.67 0 0 0 326.07 353.49ZM326.07 353.49A125.67 125.67 0 0 1 328.48 346.22L341.79 351.09A111.5 111.5 0 0 0 339.65 357.54ZM301.88 336.48A154 154 0 0 1 305.37 327.77L318.35 333.44A139.83 139.83 0 0 0 315.18 341.35ZM315.18 341.35A139.83 139.83 0 0 1 318.35 333.44L331.34 339.11A125.67 125.67 0 0 0 328.48 346.22ZM341.79 351.09A111.5 111.5 0 0 1 344.32 344.77L357.3 350.44A97.33 97.33 0 0 0 355.09 355.96ZM305.37 327.77A154 154 0 0 1 309.39 319.28L322 325.73A139.83 139.83 0 0 0 318.35 333.44ZM318.35 333.44A139.83 139.83 0 0 1 322 325.73L334.62 332.18A125.67 125.67 0 0 0 331.34 339.11ZM344.32 344.77A111.5 111.5 0 0 1 347.23 338.63L359.84 345.08A97.33 97.33 0 0 0 357.3 350.44ZM309.39 319.28A154 154 0 0 1 313.92 311.05L326.12 318.26A139.83 139.83 0 0 0 322 325.73ZM334.62 332.18A125.67 125.67 0 0 1 338.31 325.46L350.51 332.67A111.5 111.5 0 0 0 347.23 338.63ZM359.84 345.08A97.33 97.33 0 0 1 362.71 339.88L374.9 347.09A83.17 83.17 0 0 0 372.46 351.53ZM313.92 311.05A154 154 0 0 1 318.95 303.11L330.68 311.05A139.83 139.83 0 0 0 326.12 318.26ZM326.12 318.26A139.83 139.83 0 0 1 330.68 311.05L342.41 318.99A125.67 125.67 0 0 0 338.31 325.46ZM338.31 325.46A125.67 125.67 0 0 1 342.41 318.99L354.15 326.92A111.5 111.5 0 0 0 350.51 332.67ZM318.95 303.11A154 154 0 0 1 324.44 295.5L335.67 304.13A139.83 139.83 0 0 0 330.68 311.05ZM330.68 311.05A139.83 139.83 0 0 1 335.67 304.13L346.9 312.77A125.67 125.67 0 0 0 342.41 318.99ZM342.41 318.99A125.67 125.67 0 0 1 346.9 312.77L358.13 321.41A111.5 111.5 0 0 0 354.15 326.92ZM324.44 295.5A154 154 0 0 1 330.39 288.23L341.08 297.54A139.83 139.83 0 0 0 335.67 304.13ZM346.9 312.77A125.67 125.67 0 0 1 351.76 306.84L362.44 316.15A111.5 111.5 0 0 0 358.13 321.41ZM380.58 338.69A83.17 83.17 0 0 1 383.8 334.76L394.48 344.07A69 69 0 0 0 391.81 347.33ZM330.39 288.23A154 154 0 0 1 336.78 281.34L346.87 291.28A139.83 139.83 0 0 0 341.08 297.54ZM341.08 297.54A139.83 139.83 0 0 1 346.87 291.28L356.97 301.22A125.67 125.67 0 0 0 351.76 306.84ZM351.76 306.84A125.67 125.67 0 0 1 356.97 301.22L367.06 311.16A111.5 111.5 0 0 0 362.44 316.15ZM336.78 281.34A154 154 0 0 1 343.57 274.85L353.04 285.39A139.83 139.83 0 0 0 346.87 291.28ZM367.06 311.16A111.5 111.5 0 0 1 371.98 306.46L381.44 317A97.33 97.33 0 0 0 377.15 321.1ZM377.15 321.1A97.33 97.33 0 0 1 381.44 317L390.91 327.54A83.17 83.17 0 0 0 387.25 331.04ZM343.57 274.85A154 154 0 0 1 350.75 268.79L359.55 279.88A139.83 139.83 0 0 0 353.04 285.39ZM353.04 285.39A139.83 139.83 0 0 1 359.55 279.88L368.36 290.98A125.67 125.67 0 0 0 362.51 295.93ZM362.51 295.93A125.67 125.67 0 0 1 368.36 290.98L377.17 302.07A111.5 111.5 0 0 0 371.98 306.46ZM350.75 268.79A154 154 0 0 1 358.28 263.18L366.39 274.79A139.83 139.83 0 0 0 359.55 279.88ZM359.55 279.88A139.83 139.83 0 0 1 366.39 274.79L374.51 286.4A125.67 125.67 0 0 0 368.36 290.98ZM368.36 290.98A125.67 125.67 0 0 1 374.51 286.4L382.62 298.01A111.5 111.5 0 0 0 377.17 302.07ZM385.98 313.17A97.33 97.33 0 0 1 390.74 309.62L398.86 321.23A83.17 83.17 0 0 0 394.79 324.26ZM358.28 263.18A154 154 0 0 1 366.14 258.03L373.53 270.12A139.83 139.83 0 0 0 366.39 274.79ZM366.39 274.79A139.83 139.83 0 0 1 373.53 270.12L380.92 282.2A125.67 125.67 0 0 0 374.51 286.4ZM374.51 286.4A125.67 125.67 0 0 1 380.92 282.2L388.31 294.29A111.5 111.5 0 0 0 382.62 298.01ZM390.74 309.62A97.33 97.33 0 0 1 395.71 306.37L403.1 318.46A83.17 83.17 0 0 0 398.86 321.23ZM366.14 258.03A154 154 0 0 1 374.29 253.38L380.94 265.89A139.83 139.83 0 0 0 373.53 270.12ZM380.92 282.2A125.67 125.67 0 0 1 387.58 278.4L394.22 290.92A111.5 111.5 0 0 0 388.31 294.29ZM388.31 294.29A111.5 111.5 0 0 1 394.22 290.92L400.86 303.43A97.33 97.33 0 0 0 395.71 306.37ZM395.71 306.37A97.33 97.33 0 0 1 400.86 303.43L407.51 315.94A83.17 83.17 0 0 0 403.1 318.46ZM374.29 253.38A154 154 0 0 1 382.72 249.23L388.59 262.12A139.83 139.83 0 0 0 380.94 265.89ZM380.94 265.89A139.83 139.83 0 0 1 388.59 262.12L394.45 275.02A125.67 125.67 0 0 0 387.58 278.4ZM387.58 278.4A125.67 125.67 0 0 1 394.45 275.02L400.32 287.91A111.5 111.5 0 0 0 394.22 290.92ZM394.22 290.92A111.5 111.5 0 0 1 400.32 287.91L406.19 300.81A97.33 97.33 0 0 0 400.86 303.43ZM382.72 249.23A154 154 0 0 1 391.38 245.6L396.45 258.83A139.83 139.83 0 0 0 388.59 262.12ZM394.45 275.02A125.67 125.67 0 0 1 401.52 272.06L406.59 285.29A111.5 111.5 0 0 0 400.32 287.91ZM400.32 287.91A111.5 111.5 0 0 1 406.59 285.29L411.67 298.51A97.33 97.33 0 0 0 406.19 300.81ZM406.19 300.81A97.33 97.33 0 0 1 411.67 298.51L416.74 311.74A83.17 83.17 0 0 0 412.06 313.7ZM391.38 245.6A154 154 0 0 1 400.25 242.51L404.51 256.02A139.83 139.83 0 0 0 396.45 258.83ZM401.52 272.06A125.67 125.67 0 0 1 408.76 269.53L413.02 283.05A111.5 111.5 0 0 0 406.59 285.29ZM406.59 285.29A111.5 111.5 0 0 1 413.02 283.05L417.27 296.56A97.33 97.33 0 0 0 411.67 298.51ZM411.67 298.51A97.33 97.33 0 0 1 417.27 296.56L421.52 310.07A83.17 83.17 0 0 0 416.74 311.74ZM400.25 242.51A154 154 0 0 1 409.29 239.96L412.72 253.71A139.83 139.83 0 0 0 404.51 256.02ZM404.51 256.02A139.83 139.83 0 0 1 412.72 253.71L416.14 267.46A125.67 125.67 0 0 0 408.76 269.53ZM408.76 269.53A125.67 125.67 0 0 1 416.14 267.46L419.56 281.2A111.5 111.5 0 0 0 413.02 283.05ZM413.02 283.05A111.5 111.5 0 0 1 419.56 281.2L422.98 294.95A97.33 97.33 0 0 0 417.27 296.56ZM417.27 296.56A97.33 97.33 0 0 1 422.98 294.95L426.41 308.7A83.17 83.17 0 0 0 421.52 310.07ZM409.29 239.96A154 154 0 0 1 418.47 237.97L421.05 251.9A139.83 139.83 0 0 0 412.72 253.71ZM412.72 253.71A139.83 139.83 0 0 1 421.05 251.9L423.63 265.83A125.67 125.67 0 0 0 416.14 267.46ZM416.14 267.46A125.67 125.67 0 0 1 423.63 265.83L426.21 279.76A111.5 111.5 0 0 0 419.56 281.2ZM419.56 281.2A111.5 111.5 0 0 1 426.21 279.76L428.79 293.69A97.33 97.33 0 0 0 422.98 294.95ZM422.98 294.95A97.33 97.33 0 0 1 428.79 293.69L431.36 307.62A83.17 83.17 0 0 0 426.41 308.7ZM418.47 237.97A154 154 0 0 1 427.76 236.54L429.48 250.61A139.83 139.83 0 0 0 421.05 251.9ZM421.05 251.9A139.83 139.83 0 0 1 429.48 250.61L431.21 264.67A125.67 125.67 0 0 0 423.63 265.83ZM423.63 265.83A125.67 125.67 0 0 1 431.21 264.67L432.93 278.73A111.5 111.5 0 0 0 426.21 279.76ZM426.21 279.76A111.5 111.5 0 0 1 432.93 278.73L434.65 292.79A97.33 97.33 0 0 0 428.79 293.69ZM428.79 293.69A97.33 97.33 0 0 1 434.65 292.79L436.38 306.85A83.17 83.17 0 0 0 431.36 307.62ZM427.76 236.54A154 154 0 0 1 437.11 235.69L437.98 249.83A139.83 139.83 0 0 0 429.48 250.61ZM429.48 250.61A139.83 139.83 0 0 1 437.98 249.83L438.84 263.97A125.67 125.67 0 0 0 431.21 264.67ZM431.21 264.67A125.67 125.67 0 0 1 438.84 263.97L439.7 278.11A111.5 111.5 0 0 0 432.93 278.73ZM432.93 278.73A111.5 111.5 0 0 1 439.7 278.11L440.57 292.25A97.33 97.33 0 0 0 434.65 292.79ZM434.65 292.79A97.33 97.33 0 0 1 440.57 292.25L441.43 306.39A83.17 83.17 0 0 0 436.38 306.85ZM437.11 235.69A154 154 0 0 1 446.5 235.4L446.5 249.57A139.83 139.83 0 0 0 437.98 249.83ZM437.98 249.83A139.83 139.83 0 0 1 446.5 249.57L446.5 263.73A125.67 125.67 0 0 0 438.84 263.97ZM438.84 263.97A125.67 125.67 0 0 1 446.5 263.73L446.5 277.9A111.5 111.5 0 0 0 439.7 278.11ZM439.7 278.11A111.5 111.5 0 0 1 446.5 277.9L446.5 292.07A97.33 97.33 0 0 0 440.57 292.25ZM440.57 292.25A97.33 97.33 0 0 1 446.5 292.07L446.5 306.23A83.17 83.17 0 0 0 441.43 306.39ZM441.43 306.39A83.17 83.17 0 0 1 446.5 306.23L446.5 320.4A69 69 0 0 0 442.29 320.53Z" fill="#4f4f4f" stroke="#000" stroke-width="1.15"/>
<circle cx="446.5" cy="389.4" r="154.0" fill="none" stroke="#000" stroke-width="1.3"/>
<circle cx="446.5" cy="389.4" r="69.0" fill="none" stroke="#000" stroke-width="1.3"/>
<text class="lb" x="452.27" y="228" dy="0.36em" text-anchor="start" transform="rotate(-86.19 452.27 228)">p53 pathway feedback loops 2</text>
<text class="lb" x="462.1" y="228.66" dy="0.36em" text-anchor="start" transform="rotate(-82.36 462.1 228.66)">p53 pathway by glucose deprivation</text>
<text class="lb" x="471.87" y="229.91" dy="0.36em" text-anchor="start" transform="rotate(-79.06 471.87 229.91)">Vasopressin synthesis</text>
<text class="lb" x="481.55" y="231.75" dy="0.36em" text-anchor="start" transform="rotate(-75.69 481.55 231.75)">Ubiquitin proteasome</text>
<text class="lb" x="491.09" y="234.18" dy="0.36em" text-anchor="start" transform="rotate(-71.94 491.09 234.18)">Threonine biosynthesis</text>
<text class="lb" x="500.47" y="237.19" dy="0.36em" text-anchor="start" transform="rotate(-67.98 500.47 237.19)">TCA cycle</text>
<text class="lb" x="509.65" y="240.76" dy="0.36em" text-anchor="start" transform="rotate(-64.03 509.65 240.76)">Synaptic vesicle trafficking</text>
<text class="lb" x="518.6" y="244.89" dy="0.36em" text-anchor="start" transform="rotate(-59.77 518.6 244.89)">Succinate to proprionate conversion</text>
<text class="lb" x="527.27" y="249.55" dy="0.36em" text-anchor="start" transform="rotate(-55.2 527.27 249.55)">SCW signaling</text>
<text class="lb" x="535.65" y="254.73" dy="0.36em" text-anchor="start" transform="rotate(-50.62 535.65 254.73)">Oxidative stress response</text>
<text class="lb" x="543.69" y="260.42" dy="0.36em" text-anchor="start" transform="rotate(-46.27 543.69 260.42)">Muscarinic acetylcholine receptor 2 and 4 signaling</text>
<text class="lb" x="551.37" y="266.58" dy="0.36em" text-anchor="start" transform="rotate(-43.94 551.37 266.58)">Methylmalonyl</text>
<text class="lb" x="558.67" y="273.21" dy="0.36em" text-anchor="start" transform="rotate(-41.62 558.67 273.21)">Methylcitrate cycle</text>
<text class="lb" x="565.54" y="280.26" dy="0.36em" text-anchor="start" transform="rotate(-37.92 565.54 280.26)">Metabotropic glutamate receptor group II</text>
<text class="lb" x="571.97" y="287.72" dy="0.36em" text-anchor="start" transform="rotate(-36.6 571.97 287.72)">Metabotropic glutamate receptor group I</text>
<text class="lb" x="577.94" y="295.56" dy="0.36em" text-anchor="start" transform="rotate(-34.19 577.94 295.56)">MYO signaling</text>
<text class="lb" x="583.41" y="303.75" dy="0.36em" text-anchor="start" transform="rotate(-31.11 583.41 303.75)">Leucine biosynthesis</text>
<text class="lb" x="588.38" y="312.25" dy="0.36em" text-anchor="start" transform="rotate(-29.24 588.38 312.25)">Ionotropic glutamate receptor</text>
<text class="lb" x="592.82" y="321.05" dy="0.36em" text-anchor="start" transform="rotate(-24.79 592.82 321.05)">Histamine H2 receptor signaling</text>
<text class="lb" x="596.72" y="330.09" dy="0.36em" text-anchor="start" transform="rotate(-22.17 596.72 330.09)">Heterotrimeric G-protein signaling - phototransduction</text>
<text class="lb" x="600.05" y="339.36" dy="0.36em" text-anchor="start" transform="rotate(-16.31 600.05 339.36)">Glycolysis</text>
<text class="lb" x="602.82" y="348.82" dy="0.36em" text-anchor="start" transform="rotate(-13.65 602.82 348.82)">Gamma-aminobutyric acid synthesis</text>
<text class="lb" x="605" y="358.42" dy="0.36em" text-anchor="start" transform="rotate(-7.95 605 358.42)">GBB signaling</text>
<text class="lb" x="606.59" y="368.14" dy="0.36em" text-anchor="start" transform="rotate(-3.83 606.59 368.14)">FAS signaling</text>
<text class="lb" x="607.59" y="377.94" dy="0.36em" text-anchor="start" transform="rotate(-2.81 607.59 377.94)">De novo purine biosynthesis</text>
<text class="lb" x="607.99" y="387.78" dy="0.36em" text-anchor="start" transform="rotate(0.82 607.99 387.78)">DPP-SCW signaling</text>
<text class="lb" x="607.79" y="397.63" dy="0.36em" text-anchor="start" transform="rotate(2.84 607.79 397.63)">DPP signaling</text>
<text class="lb" x="606.99" y="407.45" dy="0.36em" text-anchor="start" transform="rotate(5.14 606.99 407.45)">Circadian clock system</text>
<text class="lb" x="605.59" y="417.2" dy="0.36em" text-anchor="start" transform="rotate(11.98 605.59 417.2)">Cell cycle</text>
<text class="lb" x="603.6" y="426.85" dy="0.36em" text-anchor="start" transform="rotate(14.39 603.6 426.85)">Blood coagulation</text>
<text class="lb" x="601.02" y="436.35" dy="0.36em" text-anchor="start" transform="rotate(18.58 601.02 436.35)">Beta3 adrenergic receptor signaling</text>
<text class="lb" x="597.87" y="445.69" dy="0.36em" text-anchor="start" transform="rotate(22.18 597.87 445.69)">Beta2 adrenergic receptor signaling</text>
<text class="lb" x="594.16" y="454.81" dy="0.36em" text-anchor="start" transform="rotate(25.39 594.16 454.81)">Beta1 adrenergic receptor signaling</text>
<text class="lb" x="589.9" y="463.69" dy="0.36em" text-anchor="start" transform="rotate(29.03 589.9 463.69)">BMP activin signaling-drosophila</text>
<text class="lb" x="585.1" y="472.29" dy="0.36em" text-anchor="start" transform="rotate(33.35 585.1 472.29)">Axon guidance by semaphorins</text>
<text class="lb" x="579.79" y="480.59" dy="0.36em" text-anchor="start" transform="rotate(36.51 579.79 480.59)">Axon guidance by netrin</text>
<text class="lb" x="573.98" y="488.55" dy="0.36em" text-anchor="start" transform="rotate(41.07 573.98 488.55)">Axon guidance by Slit Robo</text>
<text class="lb" x="567.7" y="496.13" dy="0.36em" text-anchor="start" transform="rotate(44.44 567.7 496.13)">Arginine biosynthesis</text>
<text class="lb" x="560.97" y="503.32" dy="0.36em" text-anchor="start" transform="rotate(48.04 560.97 503.32)">Androgen estrogene progesterone biosynthesis</text>
<text class="lb" x="553.81" y="510.09" dy="0.36em" text-anchor="start" transform="rotate(53.17 553.81 510.09)">Alanine biosynthesis</text>
<text class="lb" x="546.25" y="516.41" dy="0.36em" text-anchor="start" transform="rotate(57.4 546.25 516.41)">Activin beta signaling</text>
<text class="lb" x="538.33" y="522.25" dy="0.36em" text-anchor="start" transform="rotate(61.57 538.33 522.25)">ALP23B signaling</text>
<text class="lb" x="530.06" y="527.61" dy="0.36em" text-anchor="start" transform="rotate(64.05 530.06 527.61)">5HT4 type receptor mediated signaling</text>
<text class="lb" x="521.48" y="532.44" dy="0.36em" text-anchor="start" transform="rotate(67.68 521.48 532.44)">2-arachidonoylglycerol biosynthesis</text>
<text class="lb" x="512.62" y="536.75" dy="0.36em" text-anchor="start" transform="rotate(72.58 512.62 536.75)">p38 MAPK</text>
<text class="lb" x="503.51" y="540.5" dy="0.36em" text-anchor="start" transform="rotate(75.2 503.51 540.5)">Valine biosynthesis</text>
<text class="lb" x="494.19" y="543.7" dy="0.36em" text-anchor="start" transform="rotate(76.79 494.19 543.7)">Thyrotropin-releasing hormone receptor</text>
<text class="lb" x="484.7" y="546.32" dy="0.36em" text-anchor="start" transform="rotate(81.89 484.7 546.32)">T cell activation</text>
<text class="lb" x="475.06" y="548.35" dy="0.36em" text-anchor="start" transform="rotate(84.69 475.06 548.35)">Ras Pathway</text>
<text class="lb" x="465.32" y="549.8" dy="0.36em" text-anchor="start" transform="rotate(87 465.32 549.8)">Proline biosynthesis</text>
<text class="lb" x="455.5" y="550.65" dy="0.36em" text-anchor="end" transform="rotate(270.06 455.5 550.65)">Phenylethylamine degradation</text>
<text class="lb" x="445.65" y="550.9" dy="0.36em" text-anchor="end" transform="rotate(271.59 445.65 550.9)">Parkinson disease</text>
<text class="lb" x="435.81" y="550.55" dy="0.36em" text-anchor="end" transform="rotate(275.27 435.81 550.55)">Oxytocin receptor mediated signaling</text>
<text class="lb" x="426.01" y="549.59" dy="0.36em" text-anchor="end" transform="rotate(279.03 426.01 549.59)">Opioid proopiomelanocortin</text>
<text class="lb" x="416.28" y="548.05" dy="0.36em" text-anchor="end" transform="rotate(281.13 416.28 548.05)">Opioid proenkephalin</text>
<text class="lb" x="406.66" y="545.91" dy="0.36em" text-anchor="end" transform="rotate(284.59 406.66 545.91)">Opioid prodynorphin</text>
<text class="lb" x="397.2" y="543.19" dy="0.36em" text-anchor="end" transform="rotate(289.97 397.2 543.19)">Notch signaling</text>
<text class="lb" x="387.91" y="539.9" dy="0.36em" text-anchor="end" transform="rotate(294.72 387.91 539.9)">Metabotropic glutamate receptor group III</text>
<text class="lb" x="378.85" y="536.05" dy="0.36em" text-anchor="end" transform="rotate(298.73 378.85 536.05)">Isoleucine biosynthesis</text>
<text class="lb" x="370.03" y="531.65" dy="0.36em" text-anchor="end" transform="rotate(302.44 370.03 531.65)">Heterotrimeric G-protein - Gi and Gs alpha med.</text>
<text class="lb" x="361.5" y="526.72" dy="0.36em" text-anchor="end" transform="rotate(304.54 361.5 526.72)">GABA-B receptor II signaling</text>
<text class="lb" x="353.29" y="521.29" dy="0.36em" text-anchor="end" transform="rotate(306.32 353.29 521.29)">Enkephalin release</text>
<text class="lb" x="345.42" y="515.36" dy="0.36em" text-anchor="end" transform="rotate(310.11 345.42 515.36)">Endogenous cannabinoid signaling</text>
<text class="lb" x="337.93" y="508.96" dy="0.36em" text-anchor="end" transform="rotate(315.43 337.93 508.96)">Dopamine receptor mediated signaling</text>
<text class="lb" x="330.84" y="502.12" dy="0.36em" text-anchor="end" transform="rotate(319.33 330.84 502.12)">DNA replication</text>
<text class="lb" x="324.19" y="494.86" dy="0.36em" text-anchor="end" transform="rotate(323.11 324.19 494.86)">Cholesterol biosynthesis</text>
<text class="lb" x="317.98" y="487.21" dy="0.36em" text-anchor="end" transform="rotate(325.34 317.98 487.21)">Alzheimer disease-amyloid secretase</text>
<text class="lb" x="312.26" y="479.19" dy="0.36em" text-anchor="end" transform="rotate(329.55 312.26 479.19)">Alpha adrenergic receptor signaling</text>
<text class="lb" x="307.04" y="470.84" dy="0.36em" text-anchor="end" transform="rotate(331.94 307.04 470.84)">Adrenaline and noradrenaline biosynthesis</text>
<text class="lb" x="302.33" y="462.18" dy="0.36em" text-anchor="end" transform="rotate(334.05 302.33 462.18)">5HT2 type receptor mediated signaling</text>
<text class="lb" x="298.16" y="453.26" dy="0.36em" text-anchor="end" transform="rotate(337.09 298.16 453.26)">5HT1 type receptor mediated signaling</text>
<text class="lb" x="294.54" y="444.1" dy="0.36em" text-anchor="end" transform="rotate(338.16 294.54 444.1)">p53</text>
<text class="lb" x="291.49" y="434.73" dy="0.36em" text-anchor="end" transform="rotate(344.63 291.49 434.73)">mRNA splicing</text>
<text class="lb" x="289.02" y="425.2" dy="0.36em" text-anchor="end" transform="rotate(347.99 289.02 425.2)">VEGF signaling</text>
<text class="lb" x="287.13" y="415.53" dy="0.36em" text-anchor="end" transform="rotate(350.98 287.13 415.53)">Toll receptor signaling</text>
<text class="lb" x="285.83" y="405.77" dy="0.36em" text-anchor="end" transform="rotate(355.38 285.83 405.77)">TGF-beta signaling</text>
<text class="lb" x="285.13" y="395.94" dy="0.36em" text-anchor="end" transform="rotate(360 285.13 395.94)">S-adenosylmethionine biosynthesis</text>
<text class="lb" x="285.03" y="386.09" dy="0.36em" text-anchor="end" transform="rotate(360.52 285.03 386.09)">PI3 kinase</text>
<text class="lb" x="285.54" y="376.25" dy="0.36em" text-anchor="end" transform="rotate(365.42 285.54 376.25)">Nicotinic acetylcholine receptor</text>
<text class="lb" x="286.64" y="366.47" dy="0.36em" text-anchor="end" transform="rotate(368.44 286.64 366.47)">Nicotine pharmacodynamics</text>
<text class="lb" x="288.33" y="356.76" dy="0.36em" text-anchor="end" transform="rotate(371.58 288.33 356.76)">Muscarinic acetylcholine receptor 1 and 3</text>
<text class="lb" x="290.62" y="347.18" dy="0.36em" text-anchor="end" transform="rotate(375.93 290.62 347.18)">Interleukin signaling pathway</text>
<text class="lb" x="293.48" y="337.76" dy="0.36em" text-anchor="end" transform="rotate(378.98 293.48 337.76)">Insulin IGF pathway-protein kinase B</text>
<text class="lb" x="296.91" y="328.52" dy="0.36em" text-anchor="end" transform="rotate(382.43 296.91 328.52)">Insulin IGF-mitogen protein kinase MAP</text>
<text class="lb" x="300.9" y="319.52" dy="0.36em" text-anchor="end" transform="rotate(385.34 300.9 319.52)">Huntington disease</text>
<text class="lb" x="305.43" y="310.77" dy="0.36em" text-anchor="end" transform="rotate(387.72 305.43 310.77)">Histamine H1 receptor</text>
<text class="lb" x="310.49" y="302.32" dy="0.36em" text-anchor="end" transform="rotate(391.59 310.49 302.32)">FGF signaling</text>
<text class="lb" x="316.05" y="294.19" dy="0.36em" text-anchor="end" transform="rotate(396.15 316.05 294.19)">EGF receptor signaling</text>
<text class="lb" x="322.1" y="286.41" dy="0.36em" text-anchor="end" transform="rotate(401.14 322.1 286.41)">Cytoskeletal regulation by Rho GTPase</text>
<text class="lb" x="328.61" y="279.02" dy="0.36em" text-anchor="end" transform="rotate(403.38 328.61 279.02)">Cadherin signaling</text>
<text class="lb" x="335.56" y="272.04" dy="0.36em" text-anchor="end" transform="rotate(408.21 335.56 272.04)">Angiotensin II - G proteins and beta-arrestin</text>
<text class="lb" x="342.92" y="265.49" dy="0.36em" text-anchor="end" transform="rotate(411.26 342.92 265.49)">Alzheimer disease-presenilin</text>
<text class="lb" x="350.67" y="259.41" dy="0.36em" text-anchor="end" transform="rotate(415.36 350.67 259.41)">Integrin signaling</text>
<text class="lb" x="358.77" y="253.81" dy="0.36em" text-anchor="end" transform="rotate(419.9 358.77 253.81)">Heterotrimeric G-protein-Gq and Go alpha</text>
<text class="lb" x="367.2" y="248.71" dy="0.36em" text-anchor="end" transform="rotate(424.75 367.2 248.71)">Endothelin signaling</text>
<text class="lb" x="375.92" y="244.14" dy="0.36em" text-anchor="end" transform="rotate(427.61 375.92 244.14)">CCKR signaling map</text>
<text class="lb" x="384.91" y="240.11" dy="0.36em" text-anchor="end" transform="rotate(431.73 384.91 240.11)">B cell activation</text>
<text class="lb" x="394.13" y="236.63" dy="0.36em" text-anchor="end" transform="rotate(431.63 394.13 236.63)">Apoptosis signaling</text>
<text class="lb" x="403.54" y="233.72" dy="0.36em" text-anchor="end" transform="rotate(433.94 403.54 233.72)">Wnt signaling</text>
<text class="lb" x="413.11" y="231.39" dy="0.36em" text-anchor="end" transform="rotate(438.3 413.11 231.39)">PDGF signaling</text>
<text class="lb" x="422.8" y="229.65" dy="0.36em" text-anchor="end" transform="rotate(443.01 422.8 229.65)">Gonadotropin-releasing hormone receptor</text>
<text class="lb" x="432.59" y="228.5" dy="0.36em" text-anchor="end" transform="rotate(445.84 432.59 228.5)">Angiogenesis</text>
<text class="lb" x="442.42" y="227.95" dy="0.36em" text-anchor="end" transform="rotate(449.89 442.42 227.95)">Inflammation by chemokine and cytokine</text>
<g id="legend" style="fill:#222">
<text x="0" y="0" font-size="11.6" transform="translate(14.4 24.9) scale(1.07 1)">Primary targets</text>
<text x="0" y="0" font-size="11.6" transform="translate(146.9 24.8) scale(1.06 1)">Pathways integrity</text>
<text x="0" y="0" font-size="11.6" transform="translate(13.6 150.7) scale(1.065 1)">Pathway-Pathway Prevalence</text>
<text x="0" y="0" font-size="11.6" transform="translate(59.8 49.1) scale(1.05 1)">GM</text>
<text x="0" y="0" font-size="11.6" transform="translate(59.8 64.4) scale(1.05 1)">Metabolic</text>
<text x="0" y="0" font-size="11.6" transform="translate(59.8 79.5) scale(1.05 1)">Functional</text>
<text x="0" y="0" font-size="11.6" transform="translate(59.8 94.0) scale(1.05 1)">Tau</text>
<text x="0" y="0" font-size="11.6" transform="translate(59.8 108.5) scale(1.05 1)">Amyloid</text>
<text x="0" y="0" font-size="11.6" transform="translate(59.8 122.6) scale(1.05 1)">Vascular</text>
<path d="M25.7 38.6L35.5 38.5L44.5 38.6L54.2 39.4L43.9 123.5L31.1 123.5Z" fill="#f3f3f3" stroke="#111" stroke-width="1.3" stroke-linejoin="round"/>
<path d="M26.59 52.60Q39.55 52.00 52.50 53.00M27.54 67.60Q39.11 67.00 50.68 68.00M28.43 81.60Q38.71 81.00 48.98 82.00M29.31 95.40Q38.31 94.80 47.31 95.80M30.20 109.40Q37.91 108.80 45.61 109.80M35.5 38.5L35.5 123.5M44.5 38.6L39.6 123.5" fill="none" stroke="#111" stroke-width="1.2"/>
<path d="M157.2 52.8V39.6Q157.2 38.2 158.6 38.2H164.6Q166 38.2 166 39.6V52.8Z" fill="#4f4f4f"/>
<path d="M157.2 52.8V66.2Q157.2 67.6 158.6 67.6H164.6Q166 67.6 166 66.2V52.8Z" fill="#f5f5f5"/>
<rect x="157.2" y="38.2" width="8.8" height="29.4" rx="1.3" fill="none" stroke="#111" stroke-width="1.3"/>
<line x1="157.2" y1="52.8" x2="166" y2="52.8" stroke="#111" stroke-width="1"/>
<text x="0" y="0" font-size="11.6" transform="translate(173 49.9) scale(1.05 1)">Altered</text>
<text x="0" y="0" font-size="11.6" transform="translate(172.2 65.2) scale(1.05 1)">Non-altered</text>
<line x1="19.8" y1="167.8" x2="57" y2="167.8" stroke="#b8171f" stroke-width="3.2"/>
<text x="0" y="0" font-size="11.0" transform="translate(61.9 171.70000000000002) scale(1.07 1)">100%</text>
<line x1="19.8" y1="184.3" x2="57" y2="184.3" stroke="#ee8a4e" stroke-width="3.2"/>
<text x="0" y="0" font-size="11.0" transform="translate(61.9 188.20000000000002) scale(1.07 1)">83.3%</text>
<line x1="19.8" y1="201.2" x2="57" y2="201.2" stroke="#f6ea55" stroke-width="3.2"/>
<text x="0" y="0" font-size="11.0" transform="translate(61.9 205.1) scale(1.07 1)">66.6%</text>
<line x1="19.8" y1="219.1" x2="57" y2="219.1" stroke="#72b96f" stroke-width="3.2"/>
<text x="0" y="0" font-size="11.0" transform="translate(61.9 223.0) scale(1.07 1)">50.0%</text>
<line x1="19.8" y1="237.8" x2="57" y2="237.8" stroke="#86c3ea" stroke-width="3.2"/>
<text x="0" y="0" font-size="11.0" transform="translate(61.9 241.70000000000002) scale(1.07 1)">33.3%</text>
</g>
</svg>
</body></html>
